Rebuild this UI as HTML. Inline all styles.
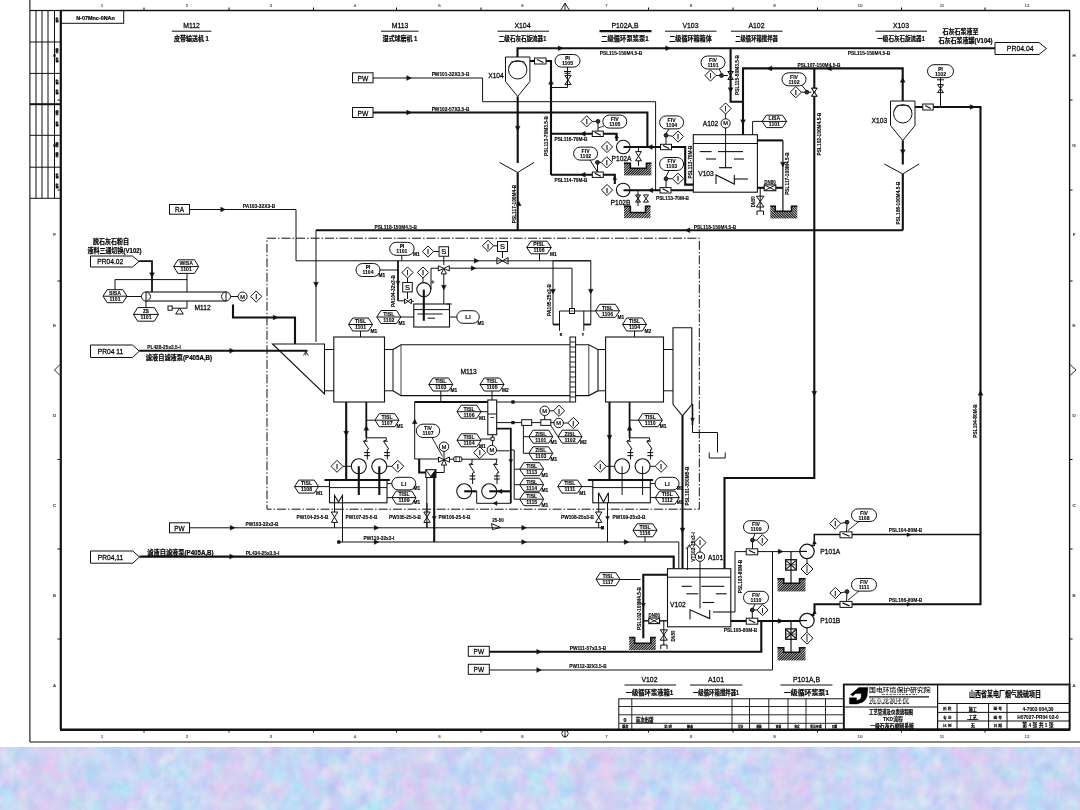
<!DOCTYPE html>
<html lang="zh"><head><meta charset="utf-8"><title>P&amp;ID 一级石灰石磨制系统</title>
<style>
html,body{margin:0;padding:0;background:#fff;}
body{width:1080px;height:810px;overflow:hidden;position:relative;font-family:'Liberation Sans', 'Noto Sans CJK SC', sans-serif;}
#band{position:absolute;left:0;top:746.5px;width:1080px;height:64px;}
#dwg{position:absolute;left:0;top:0;width:1080px;height:810px;filter:blur(0.35px);}
#dwg text{font-family:'Liberation Sans', 'Noto Sans CJK SC', sans-serif;}
</style></head><body>
<svg id="band" width="1080" height="64" viewBox="0 0 1080 64">
<defs>
<linearGradient id="pk" x1="0" y1="0" x2="186" y2="0" gradientUnits="userSpaceOnUse" spreadMethod="repeat">
<stop offset="0" stop-color="#e8b8e6" stop-opacity="0"/><stop offset="0.16" stop-color="#e8b8e6" stop-opacity="0.2"/><stop offset="0.27" stop-color="#ecc0ea" stop-opacity="0.4"/><stop offset="0.4" stop-color="#e8b8e6" stop-opacity="0.1"/><stop offset="0.6" stop-color="#a8d8f8" stop-opacity="0.25"/><stop offset="0.8" stop-color="#e8b8e6" stop-opacity="0.08"/><stop offset="1" stop-color="#e8b8e6" stop-opacity="0"/>
</linearGradient>
<filter id="tex" x="0" y="0" width="100%" height="100%" color-interpolation-filters="sRGB">
<feTurbulence type="fractalNoise" baseFrequency="0.07 0.06" numOctaves="3" seed="11" result="n"/>
<feColorMatrix in="n" type="matrix" values="0.34 0 0 0 0.615  0 0.22 0 0 0.74  0 0 0.06 0 0.93  0 0 0 0 1"/>
</filter>
</defs>
<rect width="1080" height="64" fill="#c4d0f0" filter="url(#tex)"/>
<rect width="1080" height="64" fill="url(#pk)"/>
</svg>
<svg id="dwg" width="1080" height="810" viewBox="0 0 1080 810" fill="none" stroke="#111" stroke-linecap="butt" stroke-linejoin="miter">
<path d="M29.9 0 L29.9 742" stroke-width="1.1" fill="none"/>
<path d="M29.9 742 L1080 742" stroke-width="1.2" fill="none"/>
<path d="M60.8 10.5 L60.8 729.5" stroke-width="2.2" fill="none"/>
<path d="M60 10.5 L1070 10.5" stroke-width="1.4" fill="none"/>
<path d="M1069.6 10.5 L1069.6 729.5" stroke-width="1.4" fill="none"/>
<path d="M60 729.8 L1070 729.8" stroke-width="2.4" fill="none"/>
<path d="M144 7.5 L144 10.5" stroke-width="1" fill="none"/>
<path d="M144 729.5 L144 732.5" stroke-width="1" fill="none"/>
<path d="M229 7.5 L229 10.5" stroke-width="1" fill="none"/>
<path d="M229 729.5 L229 732.5" stroke-width="1" fill="none"/>
<path d="M313.5 7.5 L313.5 10.5" stroke-width="1" fill="none"/>
<path d="M313.5 729.5 L313.5 732.5" stroke-width="1" fill="none"/>
<path d="M396.5 7.5 L396.5 10.5" stroke-width="1" fill="none"/>
<path d="M396.5 729.5 L396.5 732.5" stroke-width="1" fill="none"/>
<path d="M481 7.5 L481 10.5" stroke-width="1" fill="none"/>
<path d="M481 729.5 L481 732.5" stroke-width="1" fill="none"/>
<path d="M560.5 10.5 L565 3 L569.5 10.5" stroke-width="0.9" fill="none"/>
<path d="M565 3 L565 10.5" stroke-width="0.9" fill="none"/>
<circle cx="565" cy="733.5" r="3.2" stroke-width="0.9" fill="none"/>
<path d="M565 729.5 L565 738" stroke-width="0.9" fill="none"/>
<path d="M648.5 7.5 L648.5 10.5" stroke-width="1" fill="none"/>
<path d="M648.5 729.5 L648.5 732.5" stroke-width="1" fill="none"/>
<path d="M733 7.5 L733 10.5" stroke-width="1" fill="none"/>
<path d="M733 729.5 L733 732.5" stroke-width="1" fill="none"/>
<path d="M817.5 7.5 L817.5 10.5" stroke-width="1" fill="none"/>
<path d="M817.5 729.5 L817.5 732.5" stroke-width="1" fill="none"/>
<path d="M901.5 7.5 L901.5 10.5" stroke-width="1" fill="none"/>
<path d="M901.5 729.5 L901.5 732.5" stroke-width="1" fill="none"/>
<path d="M985 7.5 L985 10.5" stroke-width="1" fill="none"/>
<path d="M985 729.5 L985 732.5" stroke-width="1" fill="none"/>
<text x="102" y="6.5" font-size="4.4" text-anchor="middle" fill="#666" stroke="#666" stroke-width="0.22">1</text>
<text x="102" y="737.5" font-size="4.4" text-anchor="middle" fill="#666" stroke="#666" stroke-width="0.22">1</text>
<text x="187" y="6.5" font-size="4.4" text-anchor="middle" fill="#666" stroke="#666" stroke-width="0.22">2</text>
<text x="187" y="737.5" font-size="4.4" text-anchor="middle" fill="#666" stroke="#666" stroke-width="0.22">2</text>
<text x="271" y="6.5" font-size="4.4" text-anchor="middle" fill="#666" stroke="#666" stroke-width="0.22">3</text>
<text x="271" y="737.5" font-size="4.4" text-anchor="middle" fill="#666" stroke="#666" stroke-width="0.22">3</text>
<text x="355" y="6.5" font-size="4.4" text-anchor="middle" fill="#666" stroke="#666" stroke-width="0.22">4</text>
<text x="355" y="737.5" font-size="4.4" text-anchor="middle" fill="#666" stroke="#666" stroke-width="0.22">4</text>
<text x="439.5" y="6.5" font-size="4.4" text-anchor="middle" fill="#666" stroke="#666" stroke-width="0.22">5</text>
<text x="439.5" y="737.5" font-size="4.4" text-anchor="middle" fill="#666" stroke="#666" stroke-width="0.22">5</text>
<text x="522.5" y="6.5" font-size="4.4" text-anchor="middle" fill="#666" stroke="#666" stroke-width="0.22">6</text>
<text x="522.5" y="737.5" font-size="4.4" text-anchor="middle" fill="#666" stroke="#666" stroke-width="0.22">6</text>
<text x="606.5" y="6.5" font-size="4.4" text-anchor="middle" fill="#666" stroke="#666" stroke-width="0.22">7</text>
<text x="606.5" y="737.5" font-size="4.4" text-anchor="middle" fill="#666" stroke="#666" stroke-width="0.22">7</text>
<text x="691" y="6.5" font-size="4.4" text-anchor="middle" fill="#666" stroke="#666" stroke-width="0.22">8</text>
<text x="691" y="737.5" font-size="4.4" text-anchor="middle" fill="#666" stroke="#666" stroke-width="0.22">8</text>
<text x="774.5" y="6.5" font-size="4.4" text-anchor="middle" fill="#666" stroke="#666" stroke-width="0.22">9</text>
<text x="774.5" y="737.5" font-size="4.4" text-anchor="middle" fill="#666" stroke="#666" stroke-width="0.22">9</text>
<text x="860" y="6.5" font-size="4.4" text-anchor="middle" fill="#666" stroke="#666" stroke-width="0.22">10</text>
<text x="860" y="737.5" font-size="4.4" text-anchor="middle" fill="#666" stroke="#666" stroke-width="0.22">10</text>
<text x="942" y="6.5" font-size="4.4" text-anchor="middle" fill="#666" stroke="#666" stroke-width="0.22">11</text>
<text x="942" y="737.5" font-size="4.4" text-anchor="middle" fill="#666" stroke="#666" stroke-width="0.22">11</text>
<text x="1027" y="6.5" font-size="4.4" text-anchor="middle" fill="#666" stroke="#666" stroke-width="0.22">12</text>
<text x="1027" y="737.5" font-size="4.4" text-anchor="middle" fill="#666" stroke="#666" stroke-width="0.22">12</text>
<text x="54.5" y="56.6" font-size="4.4" text-anchor="middle" fill="#444" stroke="#444" stroke-width="0.22">H</text>
<text x="1074" y="56.6" font-size="4.4" text-anchor="middle" fill="#444" stroke="#444" stroke-width="0.22">H</text>
<text x="54.5" y="146.6" font-size="4.4" text-anchor="middle" fill="#444" stroke="#444" stroke-width="0.22">G</text>
<text x="1074" y="146.6" font-size="4.4" text-anchor="middle" fill="#444" stroke="#444" stroke-width="0.22">G</text>
<text x="54.5" y="236.1" font-size="4.4" text-anchor="middle" fill="#444" stroke="#444" stroke-width="0.22">F</text>
<text x="1074" y="236.1" font-size="4.4" text-anchor="middle" fill="#444" stroke="#444" stroke-width="0.22">F</text>
<text x="54.5" y="326.6" font-size="4.4" text-anchor="middle" fill="#444" stroke="#444" stroke-width="0.22">E</text>
<text x="1074" y="326.6" font-size="4.4" text-anchor="middle" fill="#444" stroke="#444" stroke-width="0.22">E</text>
<text x="54.5" y="416.6" font-size="4.4" text-anchor="middle" fill="#444" stroke="#444" stroke-width="0.22">D</text>
<text x="1074" y="416.6" font-size="4.4" text-anchor="middle" fill="#444" stroke="#444" stroke-width="0.22">D</text>
<text x="54.5" y="506.6" font-size="4.4" text-anchor="middle" fill="#444" stroke="#444" stroke-width="0.22">C</text>
<text x="1074" y="506.6" font-size="4.4" text-anchor="middle" fill="#444" stroke="#444" stroke-width="0.22">C</text>
<text x="54.5" y="596.6" font-size="4.4" text-anchor="middle" fill="#444" stroke="#444" stroke-width="0.22">B</text>
<text x="1074" y="596.6" font-size="4.4" text-anchor="middle" fill="#444" stroke="#444" stroke-width="0.22">B</text>
<text x="54.5" y="686.6" font-size="4.4" text-anchor="middle" fill="#444" stroke="#444" stroke-width="0.22">A</text>
<text x="1074" y="686.6" font-size="4.4" text-anchor="middle" fill="#444" stroke="#444" stroke-width="0.22">A</text>
<path d="M57.5 100 L60.8 100" stroke-width="1" fill="none"/>
<path d="M1069.6 100 L1072.6 100" stroke-width="1" fill="none"/>
<path d="M57.5 190 L60.8 190" stroke-width="1" fill="none"/>
<path d="M1069.6 190 L1072.6 190" stroke-width="1" fill="none"/>
<path d="M57.5 281 L60.8 281" stroke-width="1" fill="none"/>
<path d="M1069.6 281 L1072.6 281" stroke-width="1" fill="none"/>
<path d="M57.5 459.5 L60.8 459.5" stroke-width="1" fill="none"/>
<path d="M1069.6 459.5 L1072.6 459.5" stroke-width="1" fill="none"/>
<path d="M57.5 549 L60.8 549" stroke-width="1" fill="none"/>
<path d="M1069.6 549 L1072.6 549" stroke-width="1" fill="none"/>
<path d="M57.5 639 L60.8 639" stroke-width="1" fill="none"/>
<path d="M1069.6 639 L1072.6 639" stroke-width="1" fill="none"/>
<path d="M60 364.5 L54.5 370 L60 375.5" stroke-width="0.9" fill="none"/>
<path d="M1070 364.5 L1076 370 L1070 375.5" stroke-width="0.9" fill="none"/>
<path d="M36 10.5 L36 198.3" stroke-width="1" fill="none"/>
<path d="M42 10.5 L42 198.3" stroke-width="1" fill="none"/>
<path d="M48 10.5 L48 198.3" stroke-width="1" fill="none"/>
<path d="M54.5 10.5 L54.5 198.3" stroke-width="1" fill="none"/>
<path d="M29.9 42 L60.8 42" stroke-width="1" fill="none"/>
<path d="M29.9 73.4 L60.8 73.4" stroke-width="1" fill="none"/>
<path d="M29.9 104.2 L60.8 104.2" stroke-width="2" fill="none"/>
<path d="M29.9 135.3 L60.8 135.3" stroke-width="1" fill="none"/>
<path d="M29.9 167.2 L60.8 167.2" stroke-width="1" fill="none"/>
<path d="M29.9 198.3 L60.8 198.3" stroke-width="1" fill="none"/>
<path d="M29.9 10.5 L60.8 10.5" stroke-width="1.2" fill="none"/>
<text x="0" y="0" font-size="2.6" text-anchor="middle" transform="translate(57.6 20) rotate(-90)" font-weight="bold" fill="#000" stroke="#000" stroke-width="0.22">签字</text>
<text x="0" y="0" font-size="2.6" text-anchor="middle" transform="translate(57.6 51) rotate(-90)" font-weight="bold" fill="#000" stroke="#000" stroke-width="0.22">日期</text>
<text x="0" y="0" font-size="2.6" text-anchor="middle" transform="translate(57.6 60) rotate(-90)" font-weight="bold" fill="#000" stroke="#000" stroke-width="0.22">签字</text>
<text x="0" y="0" font-size="2.6" text-anchor="middle" transform="translate(57.6 82) rotate(-90)" font-weight="bold" fill="#000" stroke="#000" stroke-width="0.22">签字</text>
<text x="0" y="0" font-size="2.6" text-anchor="middle" transform="translate(57.6 92) rotate(-90)" font-weight="bold" fill="#000" stroke="#000" stroke-width="0.22">签字</text>
<text x="0" y="0" font-size="2.6" text-anchor="middle" transform="translate(57.6 113) rotate(-90)" font-weight="bold" fill="#000" stroke="#000" stroke-width="0.22">日期</text>
<text x="0" y="0" font-size="2.6" text-anchor="middle" transform="translate(57.6 124) rotate(-90)" font-weight="bold" fill="#000" stroke="#000" stroke-width="0.22">签字</text>
<text x="0" y="0" font-size="2.6" text-anchor="middle" transform="translate(57.6 145) rotate(-90)" font-weight="bold" fill="#000" stroke="#000" stroke-width="0.22">日期</text>
<text x="0" y="0" font-size="2.6" text-anchor="middle" transform="translate(57.6 155) rotate(-90)" font-weight="bold" fill="#000" stroke="#000" stroke-width="0.22">日期</text>
<text x="0" y="0" font-size="2.6" text-anchor="middle" transform="translate(57.6 176) rotate(-90)" font-weight="bold" fill="#000" stroke="#000" stroke-width="0.22">签字</text>
<text x="0" y="0" font-size="2.6" text-anchor="middle" transform="translate(57.6 186) rotate(-90)" font-weight="bold" fill="#000" stroke="#000" stroke-width="0.22">签字</text>
<rect x="60.8" y="10.5" width="62.9" height="12.8" stroke-width="1" fill="none"/>
<text x="0" y="0" font-size="6.2" text-anchor="middle" transform="translate(95.5 19.6) scale(0.88 1)" font-weight="bold" fill="#000" stroke="#000" stroke-width="0.22">N-07Mnc-0NAn</text>
<text x="0" y="0" font-size="7.92" text-anchor="middle" transform="translate(191.5 28.1) scale(0.87 1)" fill="#000" stroke="#000" stroke-width="0.25">M112</text>
<path d="M171.8 31.2 L211.3 31.2" stroke-width="1" fill="none"/>
<text x="0" y="0" font-size="7.4" text-anchor="middle" transform="translate(191.5 41.3) scale(0.81 1)" font-weight="bold" fill="#000" stroke="#000" stroke-width="0.22">皮带输送机 1</text>
<text x="0" y="0" font-size="7.92" text-anchor="middle" transform="translate(400 28.1) scale(0.87 1)" fill="#000" stroke="#000" stroke-width="0.25">M113</text>
<path d="M381 31.2 L418.5 31.2" stroke-width="1" fill="none"/>
<text x="0" y="0" font-size="7.4" text-anchor="middle" transform="translate(400 41.3) scale(0.81 1)" font-weight="bold" fill="#000" stroke="#000" stroke-width="0.22">湿式球磨机 1</text>
<text x="0" y="0" font-size="7.92" text-anchor="middle" transform="translate(522.5 28.1) scale(0.87 1)" fill="#000" stroke="#000" stroke-width="0.25">X104</text>
<path d="M497.5 31.2 L549 31.2" stroke-width="1" fill="none"/>
<text x="0" y="0" font-size="7.4" text-anchor="middle" transform="translate(522.5 41.3) scale(0.75 1)" font-weight="bold" fill="#000" stroke="#000" stroke-width="0.22">二级石灰石旋流器1</text>
<text x="0" y="0" font-size="7.92" text-anchor="middle" transform="translate(625 28.1) scale(0.87 1)" fill="#000" stroke="#000" stroke-width="0.25">P102A,B</text>
<path d="M599.5 31.2 L651.5 31.2" stroke-width="2.2" fill="none"/>
<text x="0" y="0" font-size="7.4" text-anchor="middle" transform="translate(625 41.3) scale(0.85 1)" font-weight="bold" fill="#000" stroke="#000" stroke-width="0.22">二级循环泵浆泵1</text>
<text x="0" y="0" font-size="7.92" text-anchor="middle" transform="translate(690.5 28.1) scale(0.87 1)" fill="#000" stroke="#000" stroke-width="0.25">V103</text>
<path d="M665 31.2 L716.5 31.2" stroke-width="1" fill="none"/>
<text x="0" y="0" font-size="7.4" text-anchor="middle" transform="translate(690.5 41.3) scale(0.82 1)" font-weight="bold" fill="#000" stroke="#000" stroke-width="0.22">二级循环箱箱体</text>
<text x="0" y="0" font-size="7.92" text-anchor="middle" transform="translate(756.5 28.1) scale(0.87 1)" fill="#000" stroke="#000" stroke-width="0.25">A102</text>
<path d="M731 31.2 L782.5 31.2" stroke-width="1" fill="none"/>
<text x="0" y="0" font-size="7.4" text-anchor="middle" transform="translate(756.5 41.3) scale(0.72 1)" font-weight="bold" fill="#000" stroke="#000" stroke-width="0.22">二级循环箱搅拌器</text>
<text x="0" y="0" font-size="7.92" text-anchor="middle" transform="translate(901 28.1) scale(0.87 1)" fill="#000" stroke="#000" stroke-width="0.25">X103</text>
<path d="M875.5 31.2 L927 31.2" stroke-width="1" fill="none"/>
<text x="0" y="0" font-size="7.4" text-anchor="middle" transform="translate(901 41.3) scale(0.75 1)" font-weight="bold" fill="#000" stroke="#000" stroke-width="0.22">一级石灰石旋流器1</text>
<text x="0" y="0" font-size="7.92" text-anchor="middle" transform="translate(649.5 681.5) scale(0.87 1)" fill="#000" stroke="#000" stroke-width="0.25">V102</text>
<path d="M624.5 685 L676 685" stroke-width="1" fill="none"/>
<text x="0" y="0" font-size="7.4" text-anchor="middle" transform="translate(649.5 694.7) scale(0.85 1)" font-weight="bold" fill="#000" stroke="#000" stroke-width="0.22">一级循环浆液箱1</text>
<text x="0" y="0" font-size="7.92" text-anchor="middle" transform="translate(716 681.5) scale(0.87 1)" fill="#000" stroke="#000" stroke-width="0.25">A101</text>
<path d="M690 685 L742.5 685" stroke-width="1" fill="none"/>
<text x="0" y="0" font-size="7.4" text-anchor="middle" transform="translate(716 694.7) scale(0.73 1)" font-weight="bold" fill="#000" stroke="#000" stroke-width="0.22">一级循环箱搅拌器1</text>
<text x="0" y="0" font-size="7.92" text-anchor="middle" transform="translate(806.5 681.5) scale(0.87 1)" fill="#000" stroke="#000" stroke-width="0.25">P101A,B</text>
<path d="M780.5 685 L832.5 685" stroke-width="1" fill="none"/>
<text x="0" y="0" font-size="7.4" text-anchor="middle" transform="translate(806.5 694.7) scale(0.93 1)" font-weight="bold" fill="#000" stroke="#000" stroke-width="0.22">一级循环浆泵1</text>
<text x="0" y="0" font-size="7.2" text-anchor="middle" transform="translate(960.5 33.8) scale(0.84 1)" font-weight="bold" fill="#000" stroke="#000" stroke-width="0.22">石灰石浆液至</text>
<text x="0" y="0" font-size="7.2" text-anchor="middle" transform="translate(965.5 42.8) scale(0.84 1)" font-weight="bold" fill="#000" stroke="#000" stroke-width="0.22">石灰石浆液罐(V104)</text>
<path d="M995 42.5 L1039 42.5 L1046.5 48.5 L1039 54.5 L995 54.5Z" stroke-width="1" fill="none"/>
<text x="0" y="0" font-size="7.92" text-anchor="middle" transform="translate(1020.2 51.3) scale(0.87 1)" fill="#000" stroke="#000" stroke-width="0.25">PR04.04</text>
<path d="M517.5 57 L517.5 48.2 L995 48.2" stroke-width="2.1" fill="none"/>
<path d="M563 48.2 L558.2 45.7 L558.2 50.7Z" stroke-width="0.3" fill="#111"/>
<path d="M670.5 48.2 L665.7 45.7 L665.7 50.7Z" stroke-width="0.3" fill="#111"/>
<text x="0" y="0" font-size="5.6" text-anchor="middle" transform="translate(621 54.9) scale(0.86 1)" font-weight="bold" fill="#000" stroke="#000" stroke-width="0.12">PSL115-150M4.5-B</text>
<text x="0" y="0" font-size="5.6" text-anchor="middle" transform="translate(869 54.9) scale(0.86 1)" font-weight="bold" fill="#000" stroke="#000" stroke-width="0.12">PSL115-150M4.5-B</text>
<rect x="352.5" y="72.8" width="20.5" height="10" stroke-width="1" fill="none"/>
<text x="0" y="0" font-size="7.68" text-anchor="middle" transform="translate(362.8 80.7) scale(0.87 1)" fill="#000" stroke="#000" stroke-width="0.25">PW</text>
<rect x="352.5" y="107.5" width="20.5" height="10" stroke-width="1" fill="none"/>
<text x="0" y="0" font-size="7.68" text-anchor="middle" transform="translate(362.8 115.5) scale(0.87 1)" fill="#000" stroke="#000" stroke-width="0.25">PW</text>
<path d="M373 78 L482.6 78 L482.6 101.7 L655.6 101.7 L655.6 190" stroke-width="1" fill="none"/>
<path d="M411.5 78 L406.7 75.5 L406.7 80.5Z" stroke-width="0.3" fill="#111"/>
<text x="0" y="0" font-size="5.6" text-anchor="middle" transform="translate(450.5 76.3) scale(0.86 1)" font-weight="bold" fill="#000" stroke="#000" stroke-width="0.12">PW101-32X3.5-B</text>
<path d="M373 112.5 L647.4 112.5 L647.4 147" stroke-width="2.1" fill="none"/>
<path d="M411.5 112.5 L406.7 110 L406.7 115Z" stroke-width="0.3" fill="#111"/>
<text x="0" y="0" font-size="5.6" text-anchor="middle" transform="translate(450.5 110.9) scale(0.86 1)" font-weight="bold" fill="#000" stroke="#000" stroke-width="0.12">PW102-57X3.5-B</text>
<path d="M505.5 57 L529.9 57 L529.9 81.5 L517.7 96.5 L505.5 81.5Z" stroke-width="1" fill="none"/>
<circle cx="517.7" cy="69.8" r="9.2" stroke-width="1" fill="none"/>
<path d="M508.5 67 L511.7 61.5 L523.7 61.5 L526.9 67" stroke-width="0.8" fill="none"/>
<text x="0" y="0" font-size="7.68" text-anchor="middle" transform="translate(496 77.7) scale(0.87 1)" fill="#000" stroke="#000" stroke-width="0.25">X104</text>
<path d="M517.7 96.5 L517.7 163" stroke-width="2.1" fill="none"/>
<path d="M517.7 131 L515.2 126.2 L520.2 126.2Z" stroke-width="0.3" fill="#111"/>
<path d="M499.5 162.5 L517.7 172.5 L534 162.5" stroke-width="1" fill="none"/>
<path d="M517.7 172.5 L517.7 230" stroke-width="2.1" fill="none"/>
<text x="0" y="0" font-size="5.6" text-anchor="middle" transform="translate(516.4 204) rotate(-90) scale(0.86 1)" font-weight="bold" fill="#000" stroke="#000" stroke-width="0.12">PSL117-100M4-B</text>
<path d="M530 61 L534.5 61" stroke-width="2.1" fill="none"/>
<rect x="534.5" y="58" width="11.5" height="6" stroke-width="1" fill="none"/>
<path d="M537 59.5 L543.5 62.5" stroke-width="1.1" fill="none"/>
<path d="M546 61 L551 61 L551 175" stroke-width="2.1" fill="none"/>
<path d="M551 79.5 L548.5 84.3 L553.5 84.3Z" stroke-width="0.3" fill="#111"/>
<text x="0" y="0" font-size="5.6" text-anchor="middle" transform="translate(547.7 136) rotate(-90) scale(0.86 1)" font-weight="bold" fill="#000" stroke="#000" stroke-width="0.12">PSL113-70M3.5-B</text>
<rect x="555" y="54.5" width="25" height="12.6" stroke-width="1" fill="none" rx="6.3"/>
<text x="567.5" y="60.2" font-size="4.6" text-anchor="middle" font-weight="bold" fill="#000" stroke="#000" stroke-width="0.22">PI</text>
<text x="567.5" y="65.1" font-size="5.15" text-anchor="middle" font-weight="bold" fill="#000" stroke="#000" stroke-width="0.1">1105</text>
<path d="M567.5 67 L567.5 87.5" stroke-width="1" fill="none"/>
<path d="M564 71.5 L571 71.5" stroke-width="1" fill="none"/>
<path d="M564.5 73.3 L570.5 73.3" stroke-width="1" fill="none"/>
<path d="M564.9 75.4 L571.1 75.4 L564.9 84.6 L571.1 84.6Z" stroke-width="1" fill="none"/>
<path d="M567.5 87.5 L551 87.5" stroke-width="1" fill="none"/>
<path d="M581.1 121.4 L586.7 115.8 L592.3 121.4 L586.7 127Z" stroke-width="1" fill="none"/>
<text x="586.7" y="124.1" font-size="7.44" text-anchor="middle" fill="#000" stroke="#000" stroke-width="0.25">I</text>
<circle cx="598" cy="121.4" r="1.9" stroke-width="1" fill="#333"/>
<path d="M592.3 121.4 L596 121.4" stroke-width="1" fill="none"/>
<rect x="602.8" y="115.1" width="24" height="13" stroke-width="1" fill="none" rx="6.5"/>
<text x="614.8" y="121" font-size="5.15" text-anchor="middle" font-weight="bold" fill="#000" stroke="#000" stroke-width="0.1">FIV</text>
<text x="614.8" y="125.9" font-size="5.15" text-anchor="middle" font-weight="bold" fill="#000" stroke="#000" stroke-width="0.1">1105</text>
<path d="M598 123.3 L598 131" stroke-width="1" fill="none"/>
<path d="M598 128 L604 126" stroke-width="0.8" fill="none"/>
<path d="M551 133.8 L616.6 133.8 L616.6 141" stroke-width="2.1" fill="none"/>
<path d="M580.5 133.8 L585.3 131.3 L585.3 136.3Z" stroke-width="0.3" fill="#111"/>
<path d="M616.6 134.5 L614.6 138.1 L618.6 138.1Z" stroke-width="0.3" fill="#111"/>
<rect x="592.3" y="131.1" width="11" height="5.4" stroke-width="1" fill="#fff"/>
<path d="M594.8 132.3 L600.8 135.3" stroke-width="1.2" fill="none"/>
<text x="0" y="0" font-size="5.6" text-anchor="middle" transform="translate(571 140.9) scale(0.86 1)" font-weight="bold" fill="#000" stroke="#000" stroke-width="0.12">PSL116-70M-B</text>
<path d="M601.4 147 L607 141.4 L612.6 147 L607 152.6Z" stroke-width="1" fill="none"/>
<text x="607" y="149.7" font-size="7.44" text-anchor="middle" fill="#000" stroke="#000" stroke-width="0.25">I</text>
<circle cx="623.3" cy="147" r="6.8" stroke-width="1.1" fill="none"/>
<path d="M623.5 147 L660.5 147" stroke-width="2.1" fill="none"/>
<path d="M647.5 147 L652.3 144.5 L652.3 149.5Z" stroke-width="0.3" fill="#111"/>
<rect x="660.5" y="144.3" width="11" height="5.4" stroke-width="1" fill="#fff"/>
<path d="M663 145.5 L669 148.5" stroke-width="1.2" fill="none"/>
<path d="M671.5 147 L685.2 147 L685.2 184.6 L693.3 184.6" stroke-width="2.1" fill="none"/>
<rect x="659.6" y="115.9" width="24" height="13" stroke-width="1" fill="none" rx="6.5"/>
<text x="671.6" y="121.8" font-size="5.15" text-anchor="middle" font-weight="bold" fill="#000" stroke="#000" stroke-width="0.1">FIV</text>
<text x="671.6" y="126.7" font-size="5.15" text-anchor="middle" font-weight="bold" fill="#000" stroke="#000" stroke-width="0.1">1104</text>
<circle cx="666" cy="135.3" r="1.9" stroke-width="1" fill="#333"/>
<path d="M672.4 136.5 L678 130.9 L683.6 136.5 L678 142.1Z" stroke-width="1" fill="none"/>
<text x="678" y="139.2" font-size="7.44" text-anchor="middle" fill="#000" stroke="#000" stroke-width="0.25">I</text>
<path d="M666 137 L666 144.3" stroke-width="1" fill="none"/>
<path d="M666 133.5 L669 129" stroke-width="1" fill="none"/>
<path d="M668 135.6 L672.4 136.2" stroke-width="1" fill="none"/>
<rect x="573.6" y="147.1" width="24" height="13" stroke-width="1" fill="none" rx="6.5"/>
<text x="585.6" y="153" font-size="5.15" text-anchor="middle" font-weight="bold" fill="#000" stroke="#000" stroke-width="0.1">FIV</text>
<text x="585.6" y="157.9" font-size="5.15" text-anchor="middle" font-weight="bold" fill="#000" stroke="#000" stroke-width="0.1">1102</text>
<circle cx="597.5" cy="162.4" r="1.9" stroke-width="1" fill="#333"/>
<path d="M601.1 162.4 L606.7 156.8 L612.3 162.4 L606.7 168Z" stroke-width="1" fill="none"/>
<text x="606.7" y="165.1" font-size="7.44" text-anchor="middle" fill="#000" stroke="#000" stroke-width="0.25">I</text>
<path d="M590 160 L597.5 172" stroke-width="1" fill="none"/>
<path d="M597.5 164.3 L597.5 172" stroke-width="1" fill="none"/>
<path d="M599.4 162.4 L601.1 162.4" stroke-width="1" fill="none"/>
<path d="M551 174.7 L614.8 174.7 L614.8 184" stroke-width="2.1" fill="none"/>
<path d="M580.5 174.7 L585.3 172.2 L585.3 177.2Z" stroke-width="0.3" fill="#111"/>
<path d="M614.8 176 L612.8 179.6 L616.8 179.6Z" stroke-width="0.3" fill="#111"/>
<rect x="592.3" y="172" width="11" height="5.4" stroke-width="1" fill="#fff"/>
<path d="M594.8 173.2 L600.8 176.2" stroke-width="1.2" fill="none"/>
<text x="0" y="0" font-size="5.6" text-anchor="middle" transform="translate(571 181.7) scale(0.86 1)" font-weight="bold" fill="#000" stroke="#000" stroke-width="0.12">PSL114-70M-B</text>
<text x="0" y="0" font-size="7.68" text-anchor="middle" transform="translate(621.5 160.7) scale(0.87 1)" fill="#000" stroke="#000" stroke-width="0.25">P102A</text>
<path d="M635.5 151.6 L641.5 151.6 L635.5 160.8 L641.5 160.8Z" stroke-width="1" fill="none"/>
<path d="M638.5 160.8 L638.5 166" stroke-width="1" fill="none"/>
<path d="M638.5 147 L638.5 151.6" stroke-width="1" fill="none"/>
<clipPath id="hc1"><path d="M624 162.8 L630.4 162.8 L630.4 168.3 L646.4 168.3 L646.4 162.8 L651.4 162.8 L651.4 175.5 L624 175.5Z"/></clipPath>
<path d="M610.8 176 l14.2 -14.2M613.3 176 l14.2 -14.2M615.8 176 l14.2 -14.2M618.3 176 l14.2 -14.2M620.8 176 l14.2 -14.2M623.3 176 l14.2 -14.2M625.8 176 l14.2 -14.2M628.3 176 l14.2 -14.2M630.8 176 l14.2 -14.2M633.3 176 l14.2 -14.2M635.8 176 l14.2 -14.2M638.3 176 l14.2 -14.2M640.8 176 l14.2 -14.2M643.3 176 l14.2 -14.2M645.8 176 l14.2 -14.2M648.3 176 l14.2 -14.2M650.8 176 l14.2 -14.2" stroke-width="1.15" clip-path="url(#hc1)"/>
<path d="M624 163.3 L630.4 163.3 L630.4 168.3 L646.4 168.3 L646.4 163.3 L651.4 163.3" stroke-width="1.5" fill="none"/>
<path d="M601.4 190 L607 184.4 L612.6 190 L607 195.6Z" stroke-width="1" fill="none"/>
<text x="607" y="192.7" font-size="7.44" text-anchor="middle" fill="#000" stroke="#000" stroke-width="0.25">I</text>
<circle cx="623.2" cy="190" r="6.8" stroke-width="1.1" fill="none"/>
<path d="M623.5 190.3 L693.3 190.3" stroke-width="2.1" fill="none"/>
<path d="M648 190.3 L652.8 187.8 L652.8 192.8Z" stroke-width="0.3" fill="#111"/>
<rect x="660" y="187.6" width="11" height="5.4" stroke-width="1" fill="#fff"/>
<path d="M662.5 188.8 L668.5 191.8" stroke-width="1.2" fill="none"/>
<rect x="659.6" y="157.5" width="24" height="13" stroke-width="1" fill="none" rx="6.5"/>
<text x="671.6" y="163.4" font-size="5.15" text-anchor="middle" font-weight="bold" fill="#000" stroke="#000" stroke-width="0.1">FIV</text>
<text x="671.6" y="168.3" font-size="5.15" text-anchor="middle" font-weight="bold" fill="#000" stroke="#000" stroke-width="0.1">1103</text>
<circle cx="666" cy="178.7" r="1.9" stroke-width="1" fill="#333"/>
<path d="M672.4 178.7 L678 173.1 L683.6 178.7 L678 184.3Z" stroke-width="1" fill="none"/>
<text x="678" y="181.4" font-size="7.44" text-anchor="middle" fill="#000" stroke="#000" stroke-width="0.25">I</text>
<path d="M666 180.5 L666 187.6" stroke-width="1" fill="none"/>
<path d="M666 176.8 L669 170.6" stroke-width="1" fill="none"/>
<path d="M668 178.7 L672.4 178.7" stroke-width="1" fill="none"/>
<text x="0" y="0" font-size="5.6" text-anchor="middle" transform="translate(672.5 200.3) scale(0.86 1)" font-weight="bold" fill="#000" stroke="#000" stroke-width="0.12">PSL113-70M-B</text>
<text x="0" y="0" font-size="7.68" text-anchor="middle" transform="translate(620.5 205.1) scale(0.87 1)" fill="#000" stroke="#000" stroke-width="0.25">P102B</text>
<path d="M635.5 194.9 L640.5 194.9 L635.5 202.1 L640.5 202.1Z" stroke-width="1" fill="none"/>
<path d="M638 190.3 L638 206" stroke-width="1" fill="none"/>
<path d="M643.5 194.9 L648.5 194.9 L643.5 202.1 L648.5 202.1Z" stroke-width="1" fill="none"/>
<clipPath id="hc2"><path d="M624 205.8 L630.4 205.8 L630.4 212.5 L645.5 212.5 L645.5 205.8 L650.5 205.8 L650.5 218.3 L624 218.3Z"/></clipPath>
<path d="M611 218.8 l14 -14M613.5 218.8 l14 -14M616 218.8 l14 -14M618.5 218.8 l14 -14M621 218.8 l14 -14M623.5 218.8 l14 -14M626 218.8 l14 -14M628.5 218.8 l14 -14M631 218.8 l14 -14M633.5 218.8 l14 -14M636 218.8 l14 -14M638.5 218.8 l14 -14M641 218.8 l14 -14M643.5 218.8 l14 -14M646 218.8 l14 -14M648.5 218.8 l14 -14M651 218.8 l14 -14" stroke-width="1.15" clip-path="url(#hc2)"/>
<path d="M624 206.3 L630.4 206.3 L630.4 212.5 L645.5 212.5 L645.5 206.3 L650.5 206.3" stroke-width="1.5" fill="none"/>
<text x="0" y="0" font-size="5.6" text-anchor="middle" transform="translate(691.7 162) rotate(-90) scale(0.86 1)" font-weight="bold" fill="#000" stroke="#000" stroke-width="0.12">PSL113-70M-B</text>
<rect x="693.3" y="134.7" width="64.1" height="57.5" stroke-width="1.1" fill="none"/>
<path d="M693.3 143.5 L757.4 143.5" stroke-width="1" fill="none"/>
<text x="0" y="0" font-size="7.68" text-anchor="middle" transform="translate(710.5 126.3) scale(0.87 1)" fill="#000" stroke="#000" stroke-width="0.25">A102</text>
<circle cx="725.6" cy="123.4" r="4.6" stroke-width="1" fill="none"/>
<text x="725.6" y="125.4" font-size="5.6" text-anchor="middle" fill="#000" stroke="#000" stroke-width="0.22">M</text>
<path d="M720 108.5 L725.6 102.9 L731.2 108.5 L725.6 114.1Z" stroke-width="1" fill="none"/>
<text x="725.6" y="111.2" font-size="7.44" text-anchor="middle" fill="#000" stroke="#000" stroke-width="0.25">I</text>
<path d="M725.6 114 L725.6 118.8" stroke-width="1" fill="none"/>
<path d="M725.6 128 L725.6 167.7" stroke-width="1" fill="none"/>
<path d="M719 167.7 L732 167.7" stroke-width="1.2" fill="none"/>
<path d="M699.7 151.6 L711.6 151.6" stroke-width="1.1" fill="none"/>
<path d="M718 151.6 L743 151.6" stroke-width="1.1" fill="none"/>
<path d="M706 159 L716 159" stroke-width="1.1" fill="none"/>
<path d="M734 159 L744 159" stroke-width="1.1" fill="none"/>
<path d="M716 184 L716 175 L734.3 184 L734.3 175" stroke-width="1.1" fill="none"/>
<path d="M734.3 179 L748 179" stroke-width="1.1" fill="none"/>
<text x="0" y="0" font-size="7.68" text-anchor="middle" transform="translate(706 175.7) scale(0.87 1)" fill="#000" stroke="#000" stroke-width="0.25">V103</text>
<path d="M730.6 48.2 L730.6 101.8 L743 101.8" stroke-width="2.1" fill="none"/>
<path d="M727.8 71.5 L733.4 71.5 L727.8 79.5 L733.4 79.5Z" stroke-width="1" fill="none"/>
<path d="M730.6 92.5 L728.1 87.7 L733.1 87.7Z" stroke-width="0.3" fill="#111"/>
<rect x="701" y="56" width="24" height="13" stroke-width="1" fill="none" rx="6.5"/>
<text x="713" y="61.9" font-size="5.15" text-anchor="middle" font-weight="bold" fill="#000" stroke="#000" stroke-width="0.1">FIV</text>
<text x="713" y="66.8" font-size="5.15" text-anchor="middle" font-weight="bold" fill="#000" stroke="#000" stroke-width="0.1">1101</text>
<path d="M704.9 75.5 L710.5 69.9 L716.1 75.5 L710.5 81.1Z" stroke-width="1" fill="none"/>
<text x="710.5" y="78.2" font-size="7.44" text-anchor="middle" fill="#000" stroke="#000" stroke-width="0.25">I</text>
<circle cx="721.5" cy="75.5" r="1.9" stroke-width="1" fill="#333"/>
<path d="M716.1 75.5 L719.6 75.5" stroke-width="1" fill="none"/>
<path d="M723.4 75.5 L727.8 75.5" stroke-width="1" fill="none"/>
<path d="M721.5 73.6 L719 69" stroke-width="1" fill="none"/>
<text x="0" y="0" font-size="5.6" text-anchor="middle" transform="translate(738.7 75) rotate(-90) scale(0.86 1)" font-weight="bold" fill="#000" stroke="#000" stroke-width="0.12">PSL115-50M3.5-B</text>
<path d="M743 134.7 L743 68.4 L902.7 68.4 L902.7 101" stroke-width="2.1" fill="none"/>
<path d="M743 124.5 L740.5 119.7 L745.5 119.7Z" stroke-width="0.3" fill="#111"/>
<path d="M767 68.4 L771.8 65.9 L771.8 70.9Z" stroke-width="0.3" fill="#111"/>
<path d="M826.5 68.4 L831.3 65.9 L831.3 70.9Z" stroke-width="0.3" fill="#111"/>
<path d="M902.7 77.5 L900.2 82.3 L905.2 82.3Z" stroke-width="0.3" fill="#111"/>
<text x="0" y="0" font-size="5.6" text-anchor="middle" transform="translate(819 66.5) scale(0.86 1)" font-weight="bold" fill="#000" stroke="#000" stroke-width="0.12">PSL107-150M4.5-B</text>
<path d="M762.15 121.4 L766.35 115.2 L782.45 115.2 L786.65 121.4 L782.45 127.6 L766.35 127.6Z" stroke-width="1" fill="none"/>
<path d="M762.15 121.4 L786.65 121.4" stroke-width="1" fill="none"/>
<text x="774.4" y="120.2" font-size="5.15" text-anchor="middle" font-weight="bold" fill="#000" stroke="#000" stroke-width="0.1">LISA</text>
<text x="774.4" y="126.2" font-size="5.15" text-anchor="middle" font-weight="bold" fill="#000" stroke="#000" stroke-width="0.1">1101</text>
<path d="M762.2 121.4 L752.6 121.4 L752.6 134.7" stroke-width="1" fill="none"/>
<rect x="782" y="72.8" width="24" height="13" stroke-width="1" fill="none" rx="6.5"/>
<text x="794" y="78.7" font-size="5.15" text-anchor="middle" font-weight="bold" fill="#000" stroke="#000" stroke-width="0.1">FIV</text>
<text x="794" y="83.6" font-size="5.15" text-anchor="middle" font-weight="bold" fill="#000" stroke="#000" stroke-width="0.1">1102</text>
<path d="M790.2 92.2 L795.8 86.6 L801.4 92.2 L795.8 97.8Z" stroke-width="1" fill="none"/>
<text x="795.8" y="94.9" font-size="7.44" text-anchor="middle" fill="#000" stroke="#000" stroke-width="0.25">I</text>
<circle cx="806.8" cy="92.2" r="1.9" stroke-width="1" fill="#333"/>
<path d="M801.4 92.2 L804.9 92.2" stroke-width="1" fill="none"/>
<path d="M808.7 92.2 L811.4 92.2" stroke-width="1" fill="none"/>
<path d="M806 90.4 L802 85.6" stroke-width="1" fill="none"/>
<path d="M814.3 68.4 L814.3 478 L724.5 478 L724.5 568.5" stroke-width="2.1" fill="none"/>
<path d="M811.5 88.2 L817.1 88.2 L811.5 96.2 L817.1 96.2Z" stroke-width="1" fill="none"/>
<path d="M811.5 88.2h5.6l-5.6 8h5.6z" fill="#fff" stroke-width="1"/>
<path d="M814.3 396 L811.8 391.2 L816.8 391.2Z" stroke-width="0.3" fill="#111"/>
<text x="0" y="0" font-size="5.6" text-anchor="middle" transform="translate(821 134) rotate(-90) scale(0.86 1)" font-weight="bold" fill="#000" stroke="#000" stroke-width="0.12">PSL102-100M4.5-B</text>
<path d="M757.4 140.4 L782.9 140.4" stroke-width="2.1" fill="none"/>
<path d="M782.9 140.4 L782.9 211" stroke-width="1.2" fill="none"/>
<path d="M782.9 167 L780.4 162.2 L785.4 162.2Z" stroke-width="0.3" fill="#111"/>
<text x="0" y="0" font-size="5.6" text-anchor="middle" transform="translate(789.4 173.6) rotate(-90) scale(0.86 1)" font-weight="bold" fill="#000" stroke="#000" stroke-width="0.12">PSL117-100M4.5-B</text>
<path d="M757.4 187.8 L782.9 187.8" stroke-width="2.1" fill="none"/>
<rect x="764.2" y="184.9" width="11.6" height="5.8" stroke-width="1.1" fill="#fff"/>
<path d="M764.2 184.9 L775.8 190.7" stroke-width="0.9" fill="none"/>
<path d="M775.8 184.9 L764.2 190.7" stroke-width="0.9" fill="none"/>
<text x="0" y="0" font-size="5" text-anchor="middle" transform="translate(770 183.8) scale(0.9 1)" font-weight="bold" fill="#000" stroke="#000" stroke-width="0.08">DN80</text>
<path d="M760.2 187.8 L760.2 211" stroke-width="1" fill="none"/>
<path d="M756.4 196.2 L764 196.2 L756.4 207 L764 207Z" stroke-width="1" fill="none"/>
<path d="M757 215 L757 211 L763.5 211 L763.5 215" stroke-width="1" fill="none"/>
<text x="0" y="0" font-size="4.8" text-anchor="middle" transform="translate(754.6 201.8) rotate(-90) scale(0.9 1)" font-weight="bold" fill="#000" stroke="#000" stroke-width="0.08">DN50</text>
<clipPath id="hc3"><path d="M770.3 205.7 L775.3 205.7 L775.3 211.2 L791.5 211.2 L791.5 205.7 L797.3 205.7 L797.3 218.5 L770.3 218.5Z"/></clipPath>
<path d="M757 204.7 l14.3 14.3M759.5 204.7 l14.3 14.3M762 204.7 l14.3 14.3M764.5 204.7 l14.3 14.3M767 204.7 l14.3 14.3M769.5 204.7 l14.3 14.3M772 204.7 l14.3 14.3M774.5 204.7 l14.3 14.3M777 204.7 l14.3 14.3M779.5 204.7 l14.3 14.3M782 204.7 l14.3 14.3M784.5 204.7 l14.3 14.3M787 204.7 l14.3 14.3M789.5 204.7 l14.3 14.3M792 204.7 l14.3 14.3M794.5 204.7 l14.3 14.3M797 204.7 l14.3 14.3" stroke-width="1.15" clip-path="url(#hc3)"/>
<path d="M770.3 206.2 L775.3 206.2 L775.3 211.2 L791.5 211.2 L791.5 206.2 L797.3 206.2" stroke-width="1.5" fill="none"/>
<path d="M890.5 101 L915 101 L915 125.5 L902.8 140.5 L890.5 125.5Z" stroke-width="1" fill="none"/>
<circle cx="902.8" cy="113.8" r="9.2" stroke-width="1" fill="none"/>
<path d="M893.6 111 L896.8 105.5 L908.8 105.5 L912 111" stroke-width="0.8" fill="none"/>
<text x="0" y="0" font-size="7.68" text-anchor="middle" transform="translate(879.3 122.7) scale(0.87 1)" fill="#000" stroke="#000" stroke-width="0.25">X103</text>
<path d="M902.8 140.5 L902.8 164.5" stroke-width="2.1" fill="none"/>
<path d="M902.8 154.5 L900.3 149.7 L905.3 149.7Z" stroke-width="0.3" fill="#111"/>
<path d="M884.3 164 L902.8 174 L919 164" stroke-width="1" fill="none"/>
<path d="M902.8 174 L902.8 230.2" stroke-width="2.1" fill="none"/>
<text x="0" y="0" font-size="5.6" text-anchor="middle" transform="translate(899.6 203) rotate(-90) scale(0.86 1)" font-weight="bold" fill="#000" stroke="#000" stroke-width="0.12">PSL108-100M4.5-B</text>
<path d="M915 107 L980.5 107 L980.5 604.2 L814.5 604.2 L814.5 613.5" stroke-width="2.1" fill="none"/>
<path d="M975 107 L970.2 104.5 L970.2 109.5Z" stroke-width="0.3" fill="#111"/>
<path d="M980.5 390.5 L978 395.3 L983 395.3Z" stroke-width="0.3" fill="#111"/>
<rect x="922.75" y="104" width="10.5" height="6" stroke-width="1" fill="#fff"/>
<path d="M925.25 105.5 L930.75 108.5" stroke-width="1.2" fill="none"/>
<rect x="927.5" y="64.7" width="26" height="13" stroke-width="1" fill="none" rx="6.5"/>
<text x="940.5" y="70.6" font-size="4.6" text-anchor="middle" font-weight="bold" fill="#000" stroke="#000" stroke-width="0.22">PI</text>
<text x="940.5" y="75.5" font-size="5.15" text-anchor="middle" font-weight="bold" fill="#000" stroke="#000" stroke-width="0.1">1102</text>
<path d="M940.5 77.7 L940.5 107" stroke-width="1" fill="none"/>
<path d="M937 79.8 L944 79.8" stroke-width="1" fill="none"/>
<path d="M937.5 84.6 L943.5 84.6 L937.5 92.6 L943.5 92.6Z" stroke-width="1" fill="none"/>
<text x="0" y="0" font-size="5.6" text-anchor="middle" transform="translate(977.4 421) rotate(-90) scale(0.86 1)" font-weight="bold" fill="#000" stroke="#000" stroke-width="0.12">PSL104-80M-B</text>
<path d="M316 342 L316 230.2" stroke-width="1" fill="none"/>
<path d="M316 230.2 L902.8 230.2" stroke-width="2.1" fill="none"/>
<path d="M316 287 L313.5 282.2 L318.5 282.2Z" stroke-width="0.3" fill="#111"/>
<path d="M685 230.2 L689.8 227.7 L689.8 232.7Z" stroke-width="0.3" fill="#111"/>
<text x="0" y="0" font-size="5.6" text-anchor="middle" transform="translate(395.7 228.5) scale(0.86 1)" font-weight="bold" fill="#000" stroke="#000" stroke-width="0.12">PSL118-150M4.5-B</text>
<text x="0" y="0" font-size="5.6" text-anchor="middle" transform="translate(715 228.5) scale(0.86 1)" font-weight="bold" fill="#000" stroke="#000" stroke-width="0.12">PSL118-150M4.5-B</text>
<path d="M518.7 201 L516.2 205.8 L521.2 205.8Z" stroke-width="0.3" fill="#111"/>
<rect x="169.5" y="204.5" width="20" height="9.7" stroke-width="1" fill="none"/>
<text x="0" y="0" font-size="7.44" text-anchor="middle" transform="translate(179.5 212.3) scale(0.87 1)" fill="#000" stroke="#000" stroke-width="0.25">RA</text>
<path d="M189.5 209.5 L296 209.5 L296 260.8 L590.8 260.8 L590.8 324.5" stroke-width="1" fill="none"/>
<path d="M225.5 209.5 L220.7 207 L220.7 212Z" stroke-width="0.3" fill="#111"/>
<path d="M479 260.8 L474.2 258.3 L474.2 263.3Z" stroke-width="0.3" fill="#111"/>
<path d="M590.8 294 L588.3 289.2 L593.3 289.2Z" stroke-width="0.3" fill="#111"/>
<text x="0" y="0" font-size="5.6" text-anchor="middle" transform="translate(259 208.3) scale(0.86 1)" font-weight="bold" fill="#000" stroke="#000" stroke-width="0.12">PA103-32X3-B</text>
<text x="0" y="0" font-size="7.2" text-anchor="middle" transform="translate(111 243.8) scale(0.84 1)" font-weight="bold" fill="#000" stroke="#000" stroke-width="0.22">脱石灰石粉自</text>
<text x="0" y="0" font-size="7.2" text-anchor="middle" transform="translate(114.5 252.6) scale(0.84 1)" font-weight="bold" fill="#000" stroke="#000" stroke-width="0.22">液料三通切换(V102)</text>
<path d="M90.5 256 L132.5 256 L139 261.5 L132.5 267 L90.5 267Z" stroke-width="1" fill="none"/>
<text x="0" y="0" font-size="7.68" text-anchor="middle" transform="translate(110.3 264.1) scale(0.87 1)" fill="#000" stroke="#000" stroke-width="0.25">PR04.02</text>
<path d="M139 261.2 L152 261.2 L152 292" stroke-width="1.8" fill="none"/>
<path d="M152 277.5 L149.5 272.7 L154.5 272.7Z" stroke-width="0.3" fill="#111"/>
<path d="M173.7 266.6 L177.9 259.8 L194.5 259.8 L198.7 266.6 L194.5 273.4 L177.9 273.4Z" stroke-width="1" fill="none"/>
<path d="M173.7 266.6 L198.7 266.6" stroke-width="1" fill="none"/>
<text x="186.2" y="265.4" font-size="5.15" text-anchor="middle" font-weight="bold" fill="#000" stroke="#000" stroke-width="0.1">WISA</text>
<text x="186.2" y="271.4" font-size="5.15" text-anchor="middle" font-weight="bold" fill="#000" stroke="#000" stroke-width="0.1">1101</text>
<path d="M187 273.4 L187 292" stroke-width="1" fill="none"/>
<path d="M187 279.6 L115 279.6 L115 289.6" stroke-width="1" fill="none"/>
<path d="M103 296.2 L107.2 289.7 L122.8 289.7 L127 296.2 L122.8 302.7 L107.2 302.7Z" stroke-width="1" fill="none"/>
<path d="M103 296.2 L127 296.2" stroke-width="1" fill="none"/>
<text x="115" y="295" font-size="5.15" text-anchor="middle" font-weight="bold" fill="#000" stroke="#000" stroke-width="0.1">SISA</text>
<text x="115" y="301" font-size="5.15" text-anchor="middle" font-weight="bold" fill="#000" stroke="#000" stroke-width="0.1">1101</text>
<path d="M127 296.5 L141.5 296.5" stroke-width="1" fill="none"/>
<rect x="146" y="292" width="80" height="9" stroke-width="1.1" fill="none"/>
<circle cx="146" cy="296.5" r="4.5" stroke-width="1" fill="#fff"/>
<circle cx="226" cy="296.5" r="4.5" stroke-width="1" fill="#fff"/>
<path d="M146 292 L146 301" stroke-width="1" fill="none"/>
<path d="M226 292 L226 301" stroke-width="1" fill="none"/>
<path d="M146 301 L146 307.6" stroke-width="1" fill="none"/>
<path d="M133.5 314.4 L137.7 307.6 L154.3 307.6 L158.5 314.4 L154.3 321.2 L137.7 321.2Z" stroke-width="1" fill="none"/>
<path d="M133.5 314.4 L158.5 314.4" stroke-width="1" fill="none"/>
<text x="146" y="313.2" font-size="4.6" text-anchor="middle" font-weight="bold" fill="#000" stroke="#000" stroke-width="0.22">ZS</text>
<text x="146" y="319.2" font-size="5.15" text-anchor="middle" font-weight="bold" fill="#000" stroke="#000" stroke-width="0.1">1101</text>
<rect x="168" y="306" width="4.2" height="4.2" stroke-width="1" fill="none"/>
<path d="M172.2 308.2 L179.5 308.2" stroke-width="1" fill="none"/>
<path d="M179.5 308.2 L175.7 314 L183.3 314Z" stroke-width="1" fill="none"/>
<path d="M179.5 308.2 L187 308.2 L187 301" stroke-width="1" fill="none"/>
<text x="0" y="0" font-size="7.68" text-anchor="middle" transform="translate(202.5 310.3) scale(0.87 1)" fill="#000" stroke="#000" stroke-width="0.25">M112</text>
<path d="M230.5 296.5 L238 296.5" stroke-width="1" fill="none"/>
<circle cx="242.6" cy="296.5" r="4.5" stroke-width="1" fill="none"/>
<text x="242.6" y="298.5" font-size="5.6" text-anchor="middle" fill="#000" stroke="#000" stroke-width="0.22">M</text>
<path d="M250.6 296.5 L256.2 290.9 L261.8 296.5 L256.2 302.1Z" stroke-width="1" fill="none"/>
<text x="256.2" y="299.2" font-size="7.44" text-anchor="middle" fill="#000" stroke="#000" stroke-width="0.25">I</text>
<path d="M233 304.5 L233 317.5 L295 317.5 L295 344" stroke-width="2.1" fill="none"/>
<path d="M278 317.5 L273.2 315 L273.2 320Z" stroke-width="0.3" fill="#111"/>
<path d="M90.5 345 L132.5 345 L139.3 351.2 L132.5 357.5 L90.5 357.5Z" stroke-width="1" fill="none"/>
<text x="0" y="0" font-size="7.68" text-anchor="middle" transform="translate(110.5 353.9) scale(0.87 1)" fill="#000" stroke="#000" stroke-width="0.25">PR04 11</text>
<path d="M139.3 350.8 L307.5 350.8" stroke-width="2.1" fill="none"/>
<path d="M234.5 350.8 L229.7 348.3 L229.7 353.3Z" stroke-width="0.3" fill="#111"/>
<text x="0" y="0" font-size="5.6" text-anchor="middle" transform="translate(164 349.1) scale(0.86 1)" font-weight="bold" fill="#000" stroke="#000" stroke-width="0.12">PL428-25x3.5-I</text>
<text x="0" y="0" font-size="7.2" text-anchor="middle" transform="translate(179 360) scale(0.86 1)" font-weight="bold" fill="#000" stroke="#000" stroke-width="0.22">滤液自滤液泵(P405A,B)</text>
<path d="M303.5 355.5 L305.8 351.5 L308.2 355.5" stroke-width="0.8" fill="none"/>
<path d="M305.8 351 L305.8 355.5" stroke-width="0.8" fill="none"/>
<rect x="169.5" y="522.8" width="20" height="10" stroke-width="1" fill="none"/>
<text x="0" y="0" font-size="7.44" text-anchor="middle" transform="translate(179.5 530.9) scale(0.87 1)" fill="#000" stroke="#000" stroke-width="0.25">PW</text>
<path d="M189.5 527.8 L598.7 527.8" stroke-width="1" fill="none"/>
<path d="M235 527.8 L230.2 525.3 L230.2 530.3Z" stroke-width="0.3" fill="#111"/>
<path d="M379 527.8 L374.2 525.3 L374.2 530.3Z" stroke-width="0.3" fill="#111"/>
<path d="M526.5 527.8 L521.7 525.3 L521.7 530.3Z" stroke-width="0.3" fill="#111"/>
<text x="0" y="0" font-size="5.6" text-anchor="middle" transform="translate(262 526.3) scale(0.86 1)" font-weight="bold" fill="#000" stroke="#000" stroke-width="0.12">PW103-32x3-B</text>
<path d="M90.5 551 L132.8 551 L139.5 557 L132.8 563.2 L90.5 563.2Z" stroke-width="1" fill="none"/>
<text x="0" y="0" font-size="7.68" text-anchor="middle" transform="translate(110.5 559.9) scale(0.87 1)" fill="#000" stroke="#000" stroke-width="0.25">PR04,11</text>
<path d="M139.5 556.6 L673.7 556.6 L673.7 568.5" stroke-width="2.1" fill="none"/>
<path d="M234.5 556.6 L229.7 554.1 L229.7 559.1Z" stroke-width="0.3" fill="#111"/>
<text x="0" y="0" font-size="7.2" text-anchor="middle" transform="translate(180.5 555) scale(0.86 1)" font-weight="bold" fill="#000" stroke="#000" stroke-width="0.22">滤液自滤液泵(P405A,B)</text>
<text x="0" y="0" font-size="5.6" text-anchor="middle" transform="translate(262.5 554.9) scale(0.86 1)" font-weight="bold" fill="#000" stroke="#000" stroke-width="0.12">PL434-25x3.5-I</text>
<path d="M267 238.2H699.3V509.2H267Z" stroke-width="1" fill="none" stroke-dasharray="9 2 1.5 2"/>
<path d="M272.5 344 L324.5 344 L324.5 394Z" stroke-width="1.1" fill="none"/>
<path d="M324.5 349.5 L333.8 349.5" stroke-width="1" fill="none"/>
<path d="M324.5 390.8 L333.8 390.8" stroke-width="1" fill="none"/>
<rect x="333.8" y="337" width="50.7" height="65" stroke-width="1.1" fill="none"/>
<path d="M384.5 349.5 L393 349.5" stroke-width="1" fill="none"/>
<path d="M384.5 390.8 L393 390.8" stroke-width="1" fill="none"/>
<path d="M393 349.5 L393 390.8" stroke-width="1" fill="none"/>
<path d="M393 349.5 L401 344.8 L588.8 344.8 L598 349.5 L598 390.8 L588.8 395.6 L401 395.6 L393 390.8" stroke-width="1.1" fill="none"/>
<path d="M401 344.8 L401 395.6" stroke-width="0.8" fill="none"/>
<path d="M588.8 344.8 L588.8 395.6" stroke-width="0.8" fill="none"/>
<path d="M598 349.5 L605.6 349.5" stroke-width="1" fill="none"/>
<path d="M598 390.8 L605.6 390.8" stroke-width="1" fill="none"/>
<rect x="570" y="337" width="5.6" height="65" stroke-width="1" fill="#fff"/>
<path d="M570 342 L575.6 342" stroke-width="0.9" fill="none"/>
<path d="M570 347 L575.6 347" stroke-width="0.9" fill="none"/>
<path d="M570 352 L575.6 352" stroke-width="0.9" fill="none"/>
<path d="M570 357 L575.6 357" stroke-width="0.9" fill="none"/>
<path d="M570 362 L575.6 362" stroke-width="0.9" fill="none"/>
<path d="M570 367 L575.6 367" stroke-width="0.9" fill="none"/>
<path d="M570 372 L575.6 372" stroke-width="0.9" fill="none"/>
<path d="M570 377 L575.6 377" stroke-width="0.9" fill="none"/>
<path d="M570 382 L575.6 382" stroke-width="0.9" fill="none"/>
<path d="M570 387 L575.6 387" stroke-width="0.9" fill="none"/>
<path d="M570 392 L575.6 392" stroke-width="0.9" fill="none"/>
<path d="M570 397 L575.6 397" stroke-width="0.9" fill="none"/>
<rect x="605.6" y="337" width="57.9" height="65" stroke-width="1.1" fill="none"/>
<path d="M663.5 349.5 L673 349.5" stroke-width="1" fill="none"/>
<path d="M663.5 390.8 L673 390.8" stroke-width="1" fill="none"/>
<path d="M673 404.5 L673 327.8 L691.8 327.8 L691.8 404.5 L682.5 415.8 L673 404.5" stroke-width="1.1" fill="none"/>
<text x="0" y="0" font-size="7.68" text-anchor="middle" transform="translate(468.5 373.7) scale(0.87 1)" fill="#000" stroke="#000" stroke-width="0.25">M113</text>
<path d="M692.5 404 L692.5 432.5 L717.5 432.5 L717.5 452.5" stroke-width="1" fill="none"/>
<path d="M692.5 404 L692.5 425" stroke-width="1.6" fill="none"/>
<path d="M692.5 422 L690.5 418.2 L694.5 418.2Z" stroke-width="0.3" fill="#111"/>
<path d="M709.2 452.5 L709.2 458 L725.2 458 L725.2 452.5" stroke-width="1" fill="none"/>
<path d="M682.5 415.8 L682.5 568.5" stroke-width="2.1" fill="none"/>
<path d="M682.5 532.8 L680 528 L685 528Z" stroke-width="0.3" fill="#111"/>
<text x="0" y="0" font-size="5.6" text-anchor="middle" transform="translate(689.4 486) rotate(-90) scale(0.86 1)" font-weight="bold" fill="#000" stroke="#000" stroke-width="0.12">PSL101-350M5-B</text>
<path d="M348.5 324.5 L352.7 318 L368.3 318 L372.5 324.5 L368.3 331 L352.7 331Z" stroke-width="1" fill="none"/>
<path d="M348.5 324.5 L372.5 324.5" stroke-width="1" fill="none"/>
<text x="360.5" y="323.3" font-size="5.15" text-anchor="middle" font-weight="bold" fill="#000" stroke="#000" stroke-width="0.1">TISL</text>
<text x="360.5" y="329.3" font-size="5.15" text-anchor="middle" font-weight="bold" fill="#000" stroke="#000" stroke-width="0.1">1101</text>
<path d="M360.5 331 L360.5 337" stroke-width="1" fill="none"/>
<text x="373.9" y="332.7" font-size="4.8" text-anchor="middle" font-weight="bold" fill="#000" stroke="#000" stroke-width="0.15">M1</text>
<path d="M622.5 324.5 L626.7 318 L642.3 318 L646.5 324.5 L642.3 331 L626.7 331Z" stroke-width="1" fill="none"/>
<path d="M622.5 324.5 L646.5 324.5" stroke-width="1" fill="none"/>
<text x="634.5" y="323.3" font-size="5.15" text-anchor="middle" font-weight="bold" fill="#000" stroke="#000" stroke-width="0.1">TISL</text>
<text x="634.5" y="329.3" font-size="5.15" text-anchor="middle" font-weight="bold" fill="#000" stroke="#000" stroke-width="0.1">1104</text>
<path d="M634.5 331 L634.5 337" stroke-width="1" fill="none"/>
<text x="647.9" y="332.7" font-size="4.8" text-anchor="middle" font-weight="bold" fill="#000" stroke="#000" stroke-width="0.15">M2</text>
<path d="M428.8 384.5 L433 378 L448.6 378 L452.8 384.5 L448.6 391 L433 391Z" stroke-width="1" fill="none"/>
<path d="M428.8 384.5 L452.8 384.5" stroke-width="1" fill="none"/>
<text x="440.8" y="383.3" font-size="5.15" text-anchor="middle" font-weight="bold" fill="#000" stroke="#000" stroke-width="0.1">TISL</text>
<text x="440.8" y="389.3" font-size="5.15" text-anchor="middle" font-weight="bold" fill="#000" stroke="#000" stroke-width="0.1">1103</text>
<path d="M440.8 391 L440.8 402" stroke-width="1" fill="none"/>
<text x="453.9" y="392" font-size="4.8" text-anchor="middle" font-weight="bold" fill="#000" stroke="#000" stroke-width="0.15">M1</text>
<path d="M480 384.5 L484.2 378 L499.8 378 L504 384.5 L499.8 391 L484.2 391Z" stroke-width="1" fill="none"/>
<path d="M480 384.5 L504 384.5" stroke-width="1" fill="none"/>
<text x="492" y="383.3" font-size="5.15" text-anchor="middle" font-weight="bold" fill="#000" stroke="#000" stroke-width="0.1">TISL</text>
<text x="492" y="389.3" font-size="5.15" text-anchor="middle" font-weight="bold" fill="#000" stroke="#000" stroke-width="0.1">1105</text>
<path d="M492 391 L492 400" stroke-width="1" fill="none"/>
<text x="505.4" y="392" font-size="4.8" text-anchor="middle" font-weight="bold" fill="#000" stroke="#000" stroke-width="0.15">M2</text>
<rect x="389.65" y="242.3" width="24.5" height="13" stroke-width="1" fill="none" rx="6.5"/>
<text x="401.9" y="248.2" font-size="4.6" text-anchor="middle" font-weight="bold" fill="#000" stroke="#000" stroke-width="0.22">PI</text>
<text x="401.9" y="253.1" font-size="5.15" text-anchor="middle" font-weight="bold" fill="#000" stroke="#000" stroke-width="0.1">1101</text>
<text x="416.4" y="256.2" font-size="4.8" text-anchor="middle" font-weight="bold" fill="#000" stroke="#000" stroke-width="0.15">M1</text>
<path d="M401.8 255.3 L401.8 260.8" stroke-width="1" fill="none"/>
<path d="M422.4 251.5 L428 245.9 L433.6 251.5 L428 257.1Z" stroke-width="1" fill="none"/>
<text x="428" y="254.2" font-size="7.44" text-anchor="middle" fill="#000" stroke="#000" stroke-width="0.25">I</text>
<rect x="439.05" y="246.75" width="9.5" height="9.5" stroke-width="1" fill="none"/>
<text x="443.8" y="254.1" font-size="7.5" text-anchor="middle" fill="#000" stroke="#000" stroke-width="0.22">S</text>
<path d="M433.6 251.5 L439 251.5" stroke-width="1" fill="none"/>
<path d="M443.8 256.3 L443.8 265" stroke-width="1" fill="none"/>
<path d="M438.3 265.8 L438.3 271 L443.8 268.4Z" stroke-width="1" fill="none"/>
<path d="M449.3 265.8 L449.3 271 L443.8 268.4Z" stroke-width="1" fill="none"/>
<path d="M441.2 273.9 L446.4 273.9 L443.8 268.4Z" stroke-width="1" fill="none"/>
<path d="M590.8 260.8 L553 260.8 L553 324.5" stroke-width="1" fill="none"/>
<path d="M553 294 L550.5 289.2 L555.5 289.2Z" stroke-width="0.3" fill="#111"/>
<path d="M449.3 268.2 L572 268.2 L572 308.5" stroke-width="1" fill="none"/>
<path d="M476 268.2 L471.2 265.7 L471.2 270.7Z" stroke-width="0.3" fill="#111"/>
<path d="M438.3 268.2 L431 268.2 L431 289.5" stroke-width="1" fill="none"/>
<path d="M431 282 L434.5 282" stroke-width="0.8" fill="none"/>
<path d="M432.8 280.3 L432.8 283.8" stroke-width="0.8" fill="none"/>
<path d="M443.8 274 L443.8 304" stroke-width="1" fill="none"/>
<path d="M443.8 290 L441.3 285.2 L446.3 285.2Z" stroke-width="0.3" fill="#111"/>
<rect x="356" y="263.5" width="24" height="13" stroke-width="1" fill="none" rx="6.5"/>
<text x="368" y="269.4" font-size="4.6" text-anchor="middle" font-weight="bold" fill="#000" stroke="#000" stroke-width="0.22">PI</text>
<text x="368" y="274.3" font-size="5.15" text-anchor="middle" font-weight="bold" fill="#000" stroke="#000" stroke-width="0.1">1104</text>
<text x="381.9" y="276.7" font-size="4.8" text-anchor="middle" font-weight="bold" fill="#000" stroke="#000" stroke-width="0.15">M1</text>
<path d="M380 270 L398 270" stroke-width="1" fill="none"/>
<path d="M398 260.8 L398 300.8" stroke-width="1.8" fill="none"/>
<path d="M398 285 L396 281.2 L400 281.2Z" stroke-width="0.3" fill="#111"/>
<text x="0" y="0" font-size="5.6" text-anchor="middle" transform="translate(395.2 291) rotate(-90) scale(0.86 1)" font-weight="bold" fill="#000" stroke="#000" stroke-width="0.12">PA104-32x3-B</text>
<path d="M401.9 272.5 L407.5 266.9 L413.1 272.5 L407.5 278.1Z" stroke-width="1" fill="none"/>
<text x="407.5" y="275.2" font-size="7.44" text-anchor="middle" fill="#000" stroke="#000" stroke-width="0.25">I</text>
<rect x="402.75" y="282.45" width="9.5" height="9.5" stroke-width="1" fill="none"/>
<text x="407.5" y="289.8" font-size="7.5" text-anchor="middle" fill="#000" stroke="#000" stroke-width="0.22">S</text>
<path d="M407.5 278 L407.5 282.4" stroke-width="1" fill="none"/>
<path d="M407.5 292 L407.5 299" stroke-width="1" fill="none"/>
<path d="M398 300.8 L404.6 300.8" stroke-width="1" fill="none"/>
<path d="M404.6 298.9 L404.6 303.7 L411.4 298.9 L411.4 303.7Z" stroke-width="1" fill="none"/>
<path d="M411.4 301.3 L413.8 301.3" stroke-width="1" fill="none"/>
<path d="M417.4 272.5 L423 266.9 L428.6 272.5 L423 278.1Z" stroke-width="1" fill="none"/>
<text x="423" y="275.2" font-size="7.44" text-anchor="middle" fill="#000" stroke="#000" stroke-width="0.25">I</text>
<path d="M423 278 L423 282.6" stroke-width="1" fill="none"/>
<circle cx="423.8" cy="289.6" r="7" stroke-width="1.1" fill="none"/>
<path d="M423.8 289.6 L423.8 320.8" stroke-width="2.1" fill="none"/>
<rect x="413.8" y="304" width="35.7" height="23" stroke-width="1.1" fill="none"/>
<path d="M413.8 309.6 L449.5 309.6" stroke-width="1" fill="none"/>
<path d="M417.5 314 L442.5 314" stroke-width="1" fill="none"/>
<path d="M427.5 318.2 L435 318.2" stroke-width="1" fill="none"/>
<path d="M446.5 304 L452 304" stroke-width="0.9" fill="none"/>
<rect x="456.75" y="310.7" width="22.5" height="12.6" stroke-width="1" fill="none" rx="6.3"/>
<text x="0" y="0" font-size="5.9" text-anchor="middle" transform="translate(468 319.2) scale(1.1 1)" fill="#000" stroke="#000" stroke-width="0.22">LI</text>
<path d="M449.5 317 L456.8 317" stroke-width="1" fill="none"/>
<text x="480.9" y="324.6" font-size="4.8" text-anchor="middle" font-weight="bold" fill="#000" stroke="#000" stroke-width="0.15">M1</text>
<path d="M376.8 317 L381 310.5 L396.6 310.5 L400.8 317 L396.6 323.5 L381 323.5Z" stroke-width="1" fill="none"/>
<path d="M376.8 317 L400.8 317" stroke-width="1" fill="none"/>
<text x="388.8" y="315.8" font-size="5.15" text-anchor="middle" font-weight="bold" fill="#000" stroke="#000" stroke-width="0.1">TISL</text>
<text x="388.8" y="321.8" font-size="5.15" text-anchor="middle" font-weight="bold" fill="#000" stroke="#000" stroke-width="0.1">1102</text>
<path d="M400.8 317 L413.8 317" stroke-width="1" fill="none"/>
<text x="401.9" y="324.6" font-size="4.8" text-anchor="middle" font-weight="bold" fill="#000" stroke="#000" stroke-width="0.15">M1</text>
<path d="M482.4 245.8 L488 240.2 L493.6 245.8 L488 251.4Z" stroke-width="1" fill="none"/>
<text x="488" y="248.5" font-size="7.44" text-anchor="middle" fill="#000" stroke="#000" stroke-width="0.25">I</text>
<rect x="497.5" y="241.5" width="10" height="10" stroke-width="1" fill="none"/>
<text x="502.5" y="249.1" font-size="7.5" text-anchor="middle" fill="#000" stroke="#000" stroke-width="0.22">S</text>
<path d="M493.6 245.8 L497.5 245.8" stroke-width="1" fill="none"/>
<path d="M502.5 251.5 L502.5 258" stroke-width="1" fill="none"/>
<path d="M496.9 257.5 L496.9 264.1 L508.1 257.5 L508.1 264.1Z" stroke-width="1" fill="none"/>
<path d="M526.75 247.5 L530.95 241.2 L547.05 241.2 L551.25 247.5 L547.05 253.8 L530.95 253.8Z" stroke-width="1" fill="none"/>
<path d="M526.75 247.5 L551.25 247.5" stroke-width="1" fill="none"/>
<text x="539" y="246.3" font-size="5.15" text-anchor="middle" font-weight="bold" fill="#000" stroke="#000" stroke-width="0.1">PISL</text>
<text x="539" y="252.3" font-size="5.15" text-anchor="middle" font-weight="bold" fill="#000" stroke="#000" stroke-width="0.1">1106</text>
<text x="553.4" y="255.6" font-size="4.8" text-anchor="middle" font-weight="bold" fill="#000" stroke="#000" stroke-width="0.15">M1</text>
<path d="M539.5 253.8 L539.5 260.8" stroke-width="1" fill="none"/>
<text x="0" y="0" font-size="5.6" text-anchor="middle" transform="translate(550.7 300) rotate(-90) scale(0.86 1)" font-weight="bold" fill="#000" stroke="#000" stroke-width="0.12">PA105-25x3-B</text>
<rect x="569.5" y="308.5" width="5" height="5" stroke-width="1" fill="none"/>
<path d="M570.5 311 L573.5 311" stroke-width="0.8" fill="none"/>
<path d="M559.5 330.8 L559.5 311 L569.5 311" stroke-width="1" fill="none"/>
<path d="M574.5 311 L595.6 311" stroke-width="1" fill="none"/>
<path d="M583.8 311 L583.8 330.8" stroke-width="1" fill="none"/>
<path d="M553 324.5 L559.5 324.5" stroke-width="1.8" fill="none"/>
<path d="M583.8 324.5 L590.8 324.5" stroke-width="1.8" fill="none"/>
<text x="561" y="335.5" font-size="3.4" text-anchor="middle" font-weight="bold" fill="#000" stroke="#000" stroke-width="0.22">K</text>
<text x="583" y="335.5" font-size="3.4" text-anchor="middle" font-weight="bold" fill="#000" stroke="#000" stroke-width="0.22">Y</text>
<path d="M595.5 310.8 L599.7 304.3 L615.3 304.3 L619.5 310.8 L615.3 317.3 L599.7 317.3Z" stroke-width="1" fill="none"/>
<path d="M595.5 310.8 L619.5 310.8" stroke-width="1" fill="none"/>
<text x="607.5" y="309.6" font-size="5.15" text-anchor="middle" font-weight="bold" fill="#000" stroke="#000" stroke-width="0.1">TISL</text>
<text x="607.5" y="315.6" font-size="5.15" text-anchor="middle" font-weight="bold" fill="#000" stroke="#000" stroke-width="0.1">1106</text>
<text x="620.9" y="318.7" font-size="4.8" text-anchor="middle" font-weight="bold" fill="#000" stroke="#000" stroke-width="0.15">M1</text>
<path d="M346.2 402 L346.2 480" stroke-width="2.1" fill="none"/>
<path d="M346.2 436 L343.7 431.2 L348.7 431.2Z" stroke-width="0.3" fill="#111"/>
<path d="M366.3 402 L366.3 437.8" stroke-width="1.8" fill="none"/>
<path d="M366.3 425.5 L363.8 430.3 L368.8 430.3Z" stroke-width="0.3" fill="#111"/>
<path d="M366.3 420.2 L375 420.2" stroke-width="1" fill="none"/>
<path d="M375 420.2 L379.2 413.7 L394.8 413.7 L399 420.2 L394.8 426.7 L379.2 426.7Z" stroke-width="1" fill="none"/>
<path d="M375 420.2 L399 420.2" stroke-width="1" fill="none"/>
<text x="387" y="419" font-size="5.15" text-anchor="middle" font-weight="bold" fill="#000" stroke="#000" stroke-width="0.1">TISL</text>
<text x="387" y="425" font-size="5.15" text-anchor="middle" font-weight="bold" fill="#000" stroke="#000" stroke-width="0.1">1107</text>
<text x="399.9" y="427.8" font-size="4.8" text-anchor="middle" font-weight="bold" fill="#000" stroke="#000" stroke-width="0.15">M1</text>
<path d="M366.3 437.8 L386.3 437.8" stroke-width="1" fill="none"/>
<path d="M366.3 437.8 L366.3 440.2 L363.5 441.2 L368.7 449 L367.3 449.6 L367.3 459.5" stroke-width="1" fill="none"/>
<path d="M363.7 441.2 L367.7 441.2" stroke-width="1" fill="none"/>
<path d="M364.1 452.6 L369.9 452.6" stroke-width="1.1" fill="none"/>
<path d="M364.1 455.6 L369.9 455.6" stroke-width="1.1" fill="none"/>
<path d="M386.3 437.8 L386.3 440.2 L383.5 441.2 L388.7 449 L387.3 449.6 L387.3 459.5" stroke-width="1" fill="none"/>
<path d="M383.7 441.2 L387.7 441.2" stroke-width="1" fill="none"/>
<path d="M384.1 452.6 L389.9 452.6" stroke-width="1.1" fill="none"/>
<path d="M384.1 455.6 L389.9 455.6" stroke-width="1.1" fill="none"/>
<circle cx="358.8" cy="466.3" r="7.5" stroke-width="1.1" fill="none"/>
<circle cx="379.3" cy="466.3" r="7.5" stroke-width="1.1" fill="none"/>
<path d="M358.8 466.3 L358.8 495" stroke-width="2.1" fill="none"/>
<path d="M379.3 466.3 L379.3 495" stroke-width="2.1" fill="none"/>
<path d="M331 466.3 L337 460.3 L343 466.3 L337 472.3Z" stroke-width="1" fill="none"/>
<text x="337" y="469" font-size="7.44" text-anchor="middle" fill="#000" stroke="#000" stroke-width="0.25">I</text>
<path d="M391.8 466.3 L397.8 460.3 L403.8 466.3 L397.8 472.3Z" stroke-width="1" fill="none"/>
<text x="397.8" y="469" font-size="7.44" text-anchor="middle" fill="#000" stroke="#000" stroke-width="0.25">I</text>
<path d="M343 466.3 L351.3 466.3" stroke-width="1" fill="none"/>
<path d="M386.8 466.3 L391.8 466.3" stroke-width="1" fill="none"/>
<rect x="329.5" y="480" width="57.5" height="22.8" stroke-width="1.1" fill="none"/>
<path d="M324.5 480 L389.8 480" stroke-width="2.1" fill="none"/>
<path d="M329.5 487.6 L387 487.6" stroke-width="1" fill="none"/>
<path d="M294.5 486.6 L298.7 480.1 L314.3 480.1 L318.5 486.6 L314.3 493.1 L298.7 493.1Z" stroke-width="1" fill="none"/>
<path d="M294.5 486.6 L318.5 486.6" stroke-width="1" fill="none"/>
<text x="306.5" y="485.4" font-size="5.15" text-anchor="middle" font-weight="bold" fill="#000" stroke="#000" stroke-width="0.1">TISL</text>
<text x="306.5" y="491.4" font-size="5.15" text-anchor="middle" font-weight="bold" fill="#000" stroke="#000" stroke-width="0.1">1108</text>
<path d="M318.5 486.6 L329.5 486.6" stroke-width="1" fill="none"/>
<text x="319.4" y="494.7" font-size="4.8" text-anchor="middle" font-weight="bold" fill="#000" stroke="#000" stroke-width="0.15">M1</text>
<rect x="391.8" y="477.3" width="24" height="12.6" stroke-width="1" fill="none" rx="6.3"/>
<text x="0" y="0" font-size="5.9" text-anchor="middle" transform="translate(403.8 485.9) scale(1.1 1)" fill="#000" stroke="#000" stroke-width="0.22">LI</text>
<path d="M387 483.6 L391.8 483.6" stroke-width="1" fill="none"/>
<path d="M392 497.6 L396.2 491.1 L411.8 491.1 L416 497.6 L411.8 504.1 L396.2 504.1Z" stroke-width="1" fill="none"/>
<path d="M392 497.6 L416 497.6" stroke-width="1" fill="none"/>
<text x="404" y="496.4" font-size="5.15" text-anchor="middle" font-weight="bold" fill="#000" stroke="#000" stroke-width="0.1">TISL</text>
<text x="404" y="502.4" font-size="5.15" text-anchor="middle" font-weight="bold" fill="#000" stroke="#000" stroke-width="0.1">1109</text>
<path d="M387 497.6 L392 497.6" stroke-width="1" fill="none"/>
<text x="416.9" y="490.2" font-size="4.8" text-anchor="middle" font-weight="bold" fill="#000" stroke="#000" stroke-width="0.15">M1</text>
<text x="416.9" y="504.2" font-size="4.8" text-anchor="middle" font-weight="bold" fill="#000" stroke="#000" stroke-width="0.15">M1</text>
<path d="M334.5 503 L334.5 495.5 L338.5 502 L342.5 495.5 L342.5 503" stroke-width="1.1" fill="none"/>
<path d="M609.5 402 L609.5 480" stroke-width="2.1" fill="none"/>
<path d="M609.5 440 L607 435.2 L612 435.2Z" stroke-width="0.3" fill="#111"/>
<path d="M629.6 402 L629.6 437.8" stroke-width="1.8" fill="none"/>
<path d="M629.6 425.5 L627.1 430.3 L632.1 430.3Z" stroke-width="0.3" fill="#111"/>
<path d="M629.6 420.2 L638.3 420.2" stroke-width="1" fill="none"/>
<path d="M638.3 420.2 L642.5 413.7 L658.1 413.7 L662.3 420.2 L658.1 426.7 L642.5 426.7Z" stroke-width="1" fill="none"/>
<path d="M638.3 420.2 L662.3 420.2" stroke-width="1" fill="none"/>
<text x="650.3" y="419" font-size="5.15" text-anchor="middle" font-weight="bold" fill="#000" stroke="#000" stroke-width="0.1">TISL</text>
<text x="650.3" y="425" font-size="5.15" text-anchor="middle" font-weight="bold" fill="#000" stroke="#000" stroke-width="0.1">1110</text>
<text x="663.2" y="427.8" font-size="4.8" text-anchor="middle" font-weight="bold" fill="#000" stroke="#000" stroke-width="0.15">M1</text>
<path d="M629.6 437.8 L649.6 437.8" stroke-width="1" fill="none"/>
<path d="M629.6 437.8 L629.6 440.2 L626.8 441.2 L632 449 L630.6 449.6 L630.6 459.5" stroke-width="1" fill="none"/>
<path d="M627 441.2 L631 441.2" stroke-width="1" fill="none"/>
<path d="M627.4 452.6 L633.2 452.6" stroke-width="1.1" fill="none"/>
<path d="M627.4 455.6 L633.2 455.6" stroke-width="1.1" fill="none"/>
<path d="M649.6 437.8 L649.6 440.2 L646.8 441.2 L652 449 L650.6 449.6 L650.6 459.5" stroke-width="1" fill="none"/>
<path d="M647 441.2 L651 441.2" stroke-width="1" fill="none"/>
<path d="M647.4 452.6 L653.2 452.6" stroke-width="1.1" fill="none"/>
<path d="M647.4 455.6 L653.2 455.6" stroke-width="1.1" fill="none"/>
<circle cx="622.1" cy="466.3" r="7.5" stroke-width="1.1" fill="none"/>
<circle cx="642.6" cy="466.3" r="7.5" stroke-width="1.1" fill="none"/>
<path d="M622.1 466.3 L622.1 495" stroke-width="1" fill="none"/>
<path d="M642.6 466.3 L642.6 495" stroke-width="1" fill="none"/>
<path d="M594.3 466.3 L600.3 460.3 L606.3 466.3 L600.3 472.3Z" stroke-width="1" fill="none"/>
<text x="600.3" y="469" font-size="7.44" text-anchor="middle" fill="#000" stroke="#000" stroke-width="0.25">I</text>
<path d="M655.1 466.3 L661.1 460.3 L667.1 466.3 L661.1 472.3Z" stroke-width="1" fill="none"/>
<text x="661.1" y="469" font-size="7.44" text-anchor="middle" fill="#000" stroke="#000" stroke-width="0.25">I</text>
<path d="M606.3 466.3 L614.6 466.3" stroke-width="1" fill="none"/>
<path d="M650.1 466.3 L655.1 466.3" stroke-width="1" fill="none"/>
<rect x="592.8" y="480" width="57.5" height="22.8" stroke-width="1.1" fill="none"/>
<path d="M587.8 480 L653.1 480" stroke-width="2.1" fill="none"/>
<path d="M592.8 487.6 L650.3 487.6" stroke-width="1" fill="none"/>
<path d="M557.8 486.6 L562 480.1 L577.6 480.1 L581.8 486.6 L577.6 493.1 L562 493.1Z" stroke-width="1" fill="none"/>
<path d="M557.8 486.6 L581.8 486.6" stroke-width="1" fill="none"/>
<text x="569.8" y="485.4" font-size="5.15" text-anchor="middle" font-weight="bold" fill="#000" stroke="#000" stroke-width="0.1">TISL</text>
<text x="569.8" y="491.4" font-size="5.15" text-anchor="middle" font-weight="bold" fill="#000" stroke="#000" stroke-width="0.1">1111</text>
<path d="M581.8 486.6 L592.8 486.6" stroke-width="1" fill="none"/>
<text x="582.7" y="494.7" font-size="4.8" text-anchor="middle" font-weight="bold" fill="#000" stroke="#000" stroke-width="0.15">M1</text>
<rect x="655.1" y="477.3" width="24" height="12.6" stroke-width="1" fill="none" rx="6.3"/>
<text x="0" y="0" font-size="5.9" text-anchor="middle" transform="translate(667.1 485.9) scale(1.1 1)" fill="#000" stroke="#000" stroke-width="0.22">LI</text>
<path d="M650.3 483.6 L655.1 483.6" stroke-width="1" fill="none"/>
<path d="M655.3 497.6 L659.5 491.1 L675.1 491.1 L679.3 497.6 L675.1 504.1 L659.5 504.1Z" stroke-width="1" fill="none"/>
<path d="M655.3 497.6 L679.3 497.6" stroke-width="1" fill="none"/>
<text x="667.3" y="496.4" font-size="5.15" text-anchor="middle" font-weight="bold" fill="#000" stroke="#000" stroke-width="0.1">TISL</text>
<text x="667.3" y="502.4" font-size="5.15" text-anchor="middle" font-weight="bold" fill="#000" stroke="#000" stroke-width="0.1">1112</text>
<path d="M650.3 497.6 L655.3 497.6" stroke-width="1" fill="none"/>
<text x="680.2" y="490.2" font-size="4.8" text-anchor="middle" font-weight="bold" fill="#000" stroke="#000" stroke-width="0.15">M1</text>
<text x="680.2" y="504.2" font-size="4.8" text-anchor="middle" font-weight="bold" fill="#000" stroke="#000" stroke-width="0.15">M1</text>
<path d="M598.5 503 L598.5 492.8 L603.5 502 L608.4 492.8 L608.4 503" stroke-width="1.1" fill="none"/>
<path d="M440.8 402 L414.7 402" stroke-width="1" fill="none"/>
<path d="M414.7 402 L487.8 402" stroke-width="2.1" fill="none"/>
<path d="M414.7 402 L414.7 459 L438.3 459" stroke-width="1" fill="none"/>
<path d="M414.7 419 L412.2 423.8 L417.2 423.8Z" stroke-width="0.3" fill="#111"/>
<path d="M496.7 402 L570 402" stroke-width="1" fill="none"/>
<rect x="511.8" y="400.8" width="2.4" height="2.4" stroke-width="0.8" fill="#111"/>
<rect x="487.8" y="400" width="8.9" height="34.7" stroke-width="1.1" fill="#fff"/>
<path d="M487.8 414 L496.7 414" stroke-width="1" fill="none"/>
<path d="M490.5 417.5 L494 417.5" stroke-width="0.8" fill="none"/>
<path d="M457 411.7 L461.2 405.2 L476.8 405.2 L481 411.7 L476.8 418.2 L461.2 418.2Z" stroke-width="1" fill="none"/>
<path d="M457 411.7 L481 411.7" stroke-width="1" fill="none"/>
<text x="469" y="410.5" font-size="5.15" text-anchor="middle" font-weight="bold" fill="#000" stroke="#000" stroke-width="0.1">TISL</text>
<text x="469" y="416.5" font-size="5.15" text-anchor="middle" font-weight="bold" fill="#000" stroke="#000" stroke-width="0.1">1106</text>
<path d="M481 411.7 L487.8 411.7" stroke-width="1" fill="none"/>
<text x="482.4" y="419.7" font-size="4.8" text-anchor="middle" font-weight="bold" fill="#000" stroke="#000" stroke-width="0.15">M1</text>
<rect x="416.3" y="424.15" width="23.4" height="13.3" stroke-width="1" fill="none" rx="6.65"/>
<text x="428" y="430.2" font-size="5.15" text-anchor="middle" font-weight="bold" fill="#000" stroke="#000" stroke-width="0.1">TIV</text>
<text x="428" y="435.1" font-size="5.15" text-anchor="middle" font-weight="bold" fill="#000" stroke="#000" stroke-width="0.1">1107</text>
<path d="M432 437.5 L442.5 456.5" stroke-width="0.9" fill="none"/>
<circle cx="444" cy="446.7" r="4.7" stroke-width="1" fill="none"/>
<text x="444" y="448.7" font-size="5.6" text-anchor="middle" fill="#000" stroke="#000" stroke-width="0.22">M</text>
<path d="M444 451.4 L444 459" stroke-width="1" fill="none"/>
<path d="M438.5 457 L438.5 462.2 L444 459.6Z" stroke-width="1" fill="none"/>
<path d="M449.5 457 L449.5 462.2 L444 459.6Z" stroke-width="1" fill="none"/>
<path d="M441.4 465.1 L446.6 465.1 L444 459.6Z" stroke-width="1" fill="none"/>
<rect x="453.8" y="456.8" width="8" height="4.8" stroke-width="1" fill="none" rx="1.2"/>
<path d="M449.5 459.2 L453.8 459.2" stroke-width="1" fill="none"/>
<path d="M456 456.8 L456 461.6" stroke-width="0.8" fill="none"/>
<path d="M459.6 456.8 L459.6 461.6" stroke-width="0.8" fill="none"/>
<path d="M461.8 459.2 L497.5 459.2" stroke-width="1" fill="none"/>
<path d="M457 440.3 L461.2 433.8 L476.8 433.8 L481 440.3 L476.8 446.8 L461.2 446.8Z" stroke-width="1" fill="none"/>
<path d="M457 440.3 L481 440.3" stroke-width="1" fill="none"/>
<text x="469" y="439.1" font-size="5.15" text-anchor="middle" font-weight="bold" fill="#000" stroke="#000" stroke-width="0.1">TISL</text>
<text x="469" y="445.1" font-size="5.15" text-anchor="middle" font-weight="bold" fill="#000" stroke="#000" stroke-width="0.1">1104</text>
<path d="M481 439 L491 439" stroke-width="1" fill="none"/>
<text x="482.4" y="448.2" font-size="4.8" text-anchor="middle" font-weight="bold" fill="#000" stroke="#000" stroke-width="0.15">M1</text>
<rect x="491" y="437.2" width="3.2" height="3.2" stroke-width="0.9" fill="none"/>
<path d="M492.6 434.7 L492.6 437.2" stroke-width="1" fill="none"/>
<path d="M492.6 440.4 L492.6 445.4" stroke-width="1" fill="none"/>
<circle cx="491.8" cy="450" r="4.7" stroke-width="1" fill="none"/>
<text x="491.8" y="452" font-size="5.6" text-anchor="middle" fill="#000" stroke="#000" stroke-width="0.22">M</text>
<path d="M473.7 452.6 L479.7 446.6 L485.7 452.6 L479.7 458.6Z" stroke-width="1" fill="none"/>
<text x="479.7" y="455.3" font-size="7.44" text-anchor="middle" fill="#000" stroke="#000" stroke-width="0.25">I</text>
<path d="M496.5 450.8 L509.5 450.8" stroke-width="1" fill="none"/>
<path d="M496.7 422.6 L521.7 422.6" stroke-width="1" fill="none"/>
<rect x="511.8" y="421.4" width="2.4" height="2.4" stroke-width="0.8" fill="#111"/>
<rect x="521.7" y="419.7" width="10" height="5.7" stroke-width="1" fill="#fff"/>
<path d="M531.7 422.6 L540.8 422.6" stroke-width="1" fill="none"/>
<rect x="540.8" y="419.7" width="10" height="5.7" stroke-width="1" fill="#fff"/>
<path d="M550.8 422.6 L554 422.6" stroke-width="1" fill="none"/>
<circle cx="558.7" cy="423" r="4.7" stroke-width="1" fill="none"/>
<text x="558.7" y="425" font-size="5.6" text-anchor="middle" fill="#000" stroke="#000" stroke-width="0.22">M</text>
<path d="M567.8 423 L573.4 417.4 L579 423 L573.4 428.6Z" stroke-width="1" fill="none"/>
<text x="573.4" y="425.7" font-size="7.44" text-anchor="middle" fill="#000" stroke="#000" stroke-width="0.25">I</text>
<path d="M563.4 423 L567.8 423" stroke-width="1" fill="none"/>
<circle cx="544.7" cy="410.8" r="4.7" stroke-width="1" fill="none"/>
<text x="544.7" y="412.8" font-size="5.6" text-anchor="middle" fill="#000" stroke="#000" stroke-width="0.22">M</text>
<path d="M553.4 410.8 L559 405.2 L564.6 410.8 L559 416.4Z" stroke-width="1" fill="none"/>
<text x="559" y="413.5" font-size="7.44" text-anchor="middle" fill="#000" stroke="#000" stroke-width="0.25">I</text>
<path d="M549.4 410.8 L553.4 410.8" stroke-width="1" fill="none"/>
<path d="M544.7 415.5 L544.7 419.7" stroke-width="1" fill="none"/>
<path d="M523.4 425.4 L523.4 453.3 L528.8 453.3" stroke-width="1" fill="none"/>
<path d="M523.4 436.7 L528.8 436.7" stroke-width="1" fill="none"/>
<path d="M528.8 436.7 L533 430.2 L548.6 430.2 L552.8 436.7 L548.6 443.2 L533 443.2Z" stroke-width="1" fill="none"/>
<path d="M528.8 436.7 L552.8 436.7" stroke-width="1" fill="none"/>
<text x="540.8" y="435.5" font-size="5.15" text-anchor="middle" font-weight="bold" fill="#000" stroke="#000" stroke-width="0.1">ZISL</text>
<text x="540.8" y="441.5" font-size="5.15" text-anchor="middle" font-weight="bold" fill="#000" stroke="#000" stroke-width="0.1">1101</text>
<path d="M528.8 453.3 L533 446.8 L548.6 446.8 L552.8 453.3 L548.6 459.8 L533 459.8Z" stroke-width="1" fill="none"/>
<path d="M528.8 453.3 L552.8 453.3" stroke-width="1" fill="none"/>
<text x="540.8" y="452.1" font-size="5.15" text-anchor="middle" font-weight="bold" fill="#000" stroke="#000" stroke-width="0.1">ZISL</text>
<text x="540.8" y="458.1" font-size="5.15" text-anchor="middle" font-weight="bold" fill="#000" stroke="#000" stroke-width="0.1">1103</text>
<path d="M558 436.7 L562.2 430.2 L577.8 430.2 L582 436.7 L577.8 443.2 L562.2 443.2Z" stroke-width="1" fill="none"/>
<path d="M558 436.7 L582 436.7" stroke-width="1" fill="none"/>
<text x="570" y="435.5" font-size="5.15" text-anchor="middle" font-weight="bold" fill="#000" stroke="#000" stroke-width="0.1">ZISL</text>
<text x="570" y="441.5" font-size="5.15" text-anchor="middle" font-weight="bold" fill="#000" stroke="#000" stroke-width="0.1">1102</text>
<path d="M550.8 425.4 L558 436.7" stroke-width="0.9" fill="none"/>
<text x="553.9" y="444" font-size="4.8" text-anchor="middle" font-weight="bold" fill="#000" stroke="#000" stroke-width="0.15">M1</text>
<text x="553.9" y="460.6" font-size="4.8" text-anchor="middle" font-weight="bold" fill="#000" stroke="#000" stroke-width="0.15">M1</text>
<text x="583.4" y="444" font-size="4.8" text-anchor="middle" font-weight="bold" fill="#000" stroke="#000" stroke-width="0.15">M2</text>
<path d="M496.7 428.7 L510.8 428.7 L510.8 503.3" stroke-width="1.8" fill="none"/>
<path d="M510.8 463 L508.8 459.4 L512.8 459.4Z" stroke-width="0.3" fill="#111"/>
<path d="M514.2 450 L514.2 499.2" stroke-width="1" fill="none"/>
<path d="M510.8 450 L514.2 450" stroke-width="1" fill="none"/>
<path d="M519.7 469.2 L523.9 462.7 L539.5 462.7 L543.7 469.2 L539.5 475.7 L523.9 475.7Z" stroke-width="1" fill="none"/>
<path d="M519.7 469.2 L543.7 469.2" stroke-width="1" fill="none"/>
<text x="531.7" y="468" font-size="5.15" text-anchor="middle" font-weight="bold" fill="#000" stroke="#000" stroke-width="0.1">TISL</text>
<text x="531.7" y="474" font-size="5.15" text-anchor="middle" font-weight="bold" fill="#000" stroke="#000" stroke-width="0.1">1113</text>
<path d="M514.2 469.2 L519.7 469.2" stroke-width="1" fill="none"/>
<text x="544.9" y="476.8" font-size="4.8" text-anchor="middle" font-weight="bold" fill="#000" stroke="#000" stroke-width="0.15">M1</text>
<path d="M519.7 484.7 L523.9 478.2 L539.5 478.2 L543.7 484.7 L539.5 491.2 L523.9 491.2Z" stroke-width="1" fill="none"/>
<path d="M519.7 484.7 L543.7 484.7" stroke-width="1" fill="none"/>
<text x="531.7" y="483.5" font-size="5.15" text-anchor="middle" font-weight="bold" fill="#000" stroke="#000" stroke-width="0.1">TISL</text>
<text x="531.7" y="489.5" font-size="5.15" text-anchor="middle" font-weight="bold" fill="#000" stroke="#000" stroke-width="0.1">1114</text>
<path d="M514.2 484.7 L519.7 484.7" stroke-width="1" fill="none"/>
<text x="544.9" y="492.3" font-size="4.8" text-anchor="middle" font-weight="bold" fill="#000" stroke="#000" stroke-width="0.15">M1</text>
<path d="M519.7 499.2 L523.9 492.7 L539.5 492.7 L543.7 499.2 L539.5 505.7 L523.9 505.7Z" stroke-width="1" fill="none"/>
<path d="M519.7 499.2 L543.7 499.2" stroke-width="1" fill="none"/>
<text x="531.7" y="498" font-size="5.15" text-anchor="middle" font-weight="bold" fill="#000" stroke="#000" stroke-width="0.1">TISL</text>
<text x="531.7" y="504" font-size="5.15" text-anchor="middle" font-weight="bold" fill="#000" stroke="#000" stroke-width="0.1">1115</text>
<path d="M514.2 499.2 L519.7 499.2" stroke-width="1" fill="none"/>
<text x="544.9" y="506.8" font-size="4.8" text-anchor="middle" font-weight="bold" fill="#000" stroke="#000" stroke-width="0.15">M1</text>
<path d="M472 459.2 L472 463.4 L469.2 464.4 L474.4 472.4 L472.6 473 L472.6 484" stroke-width="1" fill="none"/>
<path d="M469.4 464.4 L473.4 464.4" stroke-width="1" fill="none"/>
<path d="M469.6 476 L475.4 476" stroke-width="1.1" fill="none"/>
<path d="M469.6 479 L475.4 479" stroke-width="1.1" fill="none"/>
<path d="M496.4 459.2 L496.4 463.4 L493.6 464.4 L498.8 472.4 L497 473 L497 484" stroke-width="1" fill="none"/>
<path d="M493.8 464.4 L497.8 464.4" stroke-width="1" fill="none"/>
<path d="M494 476 L499.8 476" stroke-width="1.1" fill="none"/>
<path d="M494 479 L499.8 479" stroke-width="1.1" fill="none"/>
<circle cx="464.2" cy="491.3" r="7.5" stroke-width="1.1" fill="none"/>
<circle cx="489.2" cy="491.3" r="7.5" stroke-width="1.1" fill="none"/>
<path d="M464.2 491.3 L476.7 491.3" stroke-width="2.1" fill="none"/>
<path d="M489.2 491.3 L510.8 491.3" stroke-width="2.1" fill="none"/>
<path d="M498 491.3 L502 488.9 L502 493.7Z" stroke-width="0.3" fill="#111"/>
<path d="M476.7 491.3 L476.7 503.3 L510.8 503.3" stroke-width="1" fill="none"/>
<path d="M493 503.3 L497 501.1 L497 505.5Z" stroke-width="0.3" fill="#111"/>
<path d="M419.2 459 L419.2 472.5 L425.8 472.5" stroke-width="2.1" fill="none"/>
<rect x="425.8" y="469.7" width="10" height="7.8" stroke-width="1.1" fill="none"/>
<path d="M425.8 469.7 L430.8 476.5 L435.8 469.7" stroke-width="1" fill="none"/>
<path d="M430.8 476.5 L435.8 477.5 L435.8 469.7Z" stroke-width="0.6" fill="#111"/>
<path d="M435.8 472.5 L444.2 472.5 L444.2 465.2" stroke-width="1" fill="none"/>
<path d="M426.8 477.5 L426.8 527.8" stroke-width="1" fill="none"/>
<path d="M434.2 477.5 L434.2 542" stroke-width="2.1" fill="none"/>
<text x="0" y="0" font-size="5.6" text-anchor="middle" transform="translate(312.5 519.1) scale(0.86 1)" font-weight="bold" fill="#000" stroke="#000" stroke-width="0.12">PW104-25-5-B</text>
<text x="0" y="0" font-size="5.6" text-anchor="middle" transform="translate(361.5 519.1) scale(0.86 1)" font-weight="bold" fill="#000" stroke="#000" stroke-width="0.12">PW107-25-5-B</text>
<text x="0" y="0" font-size="5.6" text-anchor="middle" transform="translate(405 519.1) scale(0.86 1)" font-weight="bold" fill="#000" stroke="#000" stroke-width="0.12">PW105-25-5-B</text>
<text x="0" y="0" font-size="5.6" text-anchor="middle" transform="translate(454.5 519.1) scale(0.86 1)" font-weight="bold" fill="#000" stroke="#000" stroke-width="0.12">PW106-25-5-B</text>
<text x="0" y="0" font-size="5.6" text-anchor="middle" transform="translate(577.5 519.1) scale(0.86 1)" font-weight="bold" fill="#000" stroke="#000" stroke-width="0.12">PW108-25x3-B</text>
<text x="0" y="0" font-size="5.6" text-anchor="middle" transform="translate(629 519.1) scale(0.86 1)" font-weight="bold" fill="#000" stroke="#000" stroke-width="0.12">PW109-25x3-B</text>
<path d="M331.3 512 L337.7 512 L331.3 522.4 L337.7 522.4Z" stroke-width="1" fill="none"/>
<path d="M334.5 503 L334.5 512" stroke-width="1" fill="none"/>
<path d="M334.5 522.4 L334.5 527.8" stroke-width="1" fill="none"/>
<path d="M423.8 512 L430.2 512 L423.8 522.4 L430.2 522.4Z" stroke-width="1" fill="none"/>
<path d="M427 503 L427 512" stroke-width="1" fill="none"/>
<path d="M427 522.4 L427 527.8" stroke-width="1" fill="none"/>
<path d="M595.5 512 L601.9 512 L595.5 522.4 L601.9 522.4Z" stroke-width="1" fill="none"/>
<path d="M598.7 503 L598.7 512" stroke-width="1" fill="none"/>
<path d="M598.7 522.4 L598.7 527.8" stroke-width="1" fill="none"/>
<path d="M342.5 503 L342.5 542" stroke-width="1" fill="none"/>
<path d="M434.2 520 L432 516.4 L436.4 516.4Z" stroke-width="0.3" fill="#111"/>
<path d="M607.5 520 L605.5 516.4 L609.5 516.4Z" stroke-width="0.3" fill="#111"/>
<path d="M338.8 542 L678.8 542 L678.8 568.5" stroke-width="1" fill="none"/>
<rect x="337.6" y="540.8" width="2.4" height="2.4" stroke-width="0.8" fill="#111"/>
<path d="M379 542 L374.2 539.5 L374.2 544.5Z" stroke-width="0.3" fill="#111"/>
<path d="M526.5 542 L521.7 539.5 L521.7 544.5Z" stroke-width="0.3" fill="#111"/>
<path d="M629 542 L624.2 539.5 L624.2 544.5Z" stroke-width="0.3" fill="#111"/>
<text x="0" y="0" font-size="5.6" text-anchor="middle" transform="translate(379 540.3) scale(0.86 1)" font-weight="bold" fill="#000" stroke="#000" stroke-width="0.12">PW110-32x3-I</text>
<path d="M491.5 523.5 L500.5 527.5 L492.5 529.5 L491.5 523.5" stroke-width="1" fill="none"/>
<text x="498" y="522" font-size="4.48" text-anchor="middle" font-weight="bold" fill="#000" stroke="#000" stroke-width="0.1">25-50</text>
<path d="M607.5 503 L607.5 542" stroke-width="1" fill="none"/>
<rect x="601.3" y="526.6" width="2.4" height="2.4" stroke-width="0.8" fill="#111"/>
<path d="M598.7 527.8 L602.5 527.8" stroke-width="1" fill="none"/>
<path d="M633 530.3 L637.2 523.8 L652.8 523.8 L657 530.3 L652.8 536.8 L637.2 536.8Z" stroke-width="1" fill="none"/>
<path d="M633 530.3 L657 530.3" stroke-width="1" fill="none"/>
<text x="645" y="529.1" font-size="5.15" text-anchor="middle" font-weight="bold" fill="#000" stroke="#000" stroke-width="0.1">TISL</text>
<text x="645" y="535.1" font-size="5.15" text-anchor="middle" font-weight="bold" fill="#000" stroke="#000" stroke-width="0.1">1116</text>
<path d="M645 536.8 L645 542" stroke-width="1" fill="none"/>
<rect x="667.5" y="568.7" width="63.3" height="58.1" stroke-width="1.1" fill="none"/>
<path d="M667.5 577.2 L730.8 577.2" stroke-width="1" fill="none"/>
<circle cx="700" cy="556.7" r="4.7" stroke-width="1" fill="none"/>
<text x="700" y="558.7" font-size="5.6" text-anchor="middle" fill="#000" stroke="#000" stroke-width="0.22">M</text>
<path d="M694 542.6 L700 536.6 L706 542.6 L700 548.6Z" stroke-width="1" fill="none"/>
<text x="700" y="545.3" font-size="7.44" text-anchor="middle" fill="#000" stroke="#000" stroke-width="0.25">I</text>
<text x="0" y="0" font-size="7.44" text-anchor="middle" transform="translate(715.5 559.5) scale(0.87 1)" fill="#000" stroke="#000" stroke-width="0.25">A101</text>
<path d="M700 548.6 L700 552" stroke-width="1" fill="none"/>
<path d="M700 561.4 L700 608.5" stroke-width="1" fill="none"/>
<path d="M681.7 586.3 L691.7 586.3" stroke-width="1.1" fill="none"/>
<path d="M701.3 586.3 L724.2 586.3" stroke-width="1.1" fill="none"/>
<path d="M686.3 593.8 L698.3 593.8" stroke-width="1.1" fill="none"/>
<path d="M715.8 593.8 L726.7 593.8" stroke-width="1.1" fill="none"/>
<path d="M702.5 602.5 L714.2 602.5" stroke-width="1.1" fill="none"/>
<path d="M690 619.2 L690 609.8 L709.7 618.6 L709.7 610" stroke-width="1.1" fill="none"/>
<path d="M713 612 L730.8 612" stroke-width="1.1" fill="none"/>
<text x="0" y="0" font-size="7.68" text-anchor="middle" transform="translate(677.8 606.5) scale(0.87 1)" fill="#000" stroke="#000" stroke-width="0.25">V102</text>
<path d="M687.5 570 L687.5 548 L690.5 545" stroke-width="0.9" fill="none"/>
<path d="M686 549 L689.5 544.5 L690.5 548" stroke-width="0.8" fill="none"/>
<text x="0" y="0" font-size="5.6" text-anchor="middle" transform="translate(694.7 547) rotate(-90) scale(0.86 1)" font-weight="bold" fill="#000" stroke="#000" stroke-width="0.12">VT102-25x3-I</text>
<path d="M596 579.2 L600.2 572.7 L615.8 572.7 L620 579.2 L615.8 585.7 L600.2 585.7Z" stroke-width="1" fill="none"/>
<path d="M596 579.2 L620 579.2" stroke-width="1" fill="none"/>
<text x="608" y="578" font-size="5.15" text-anchor="middle" font-weight="bold" fill="#000" stroke="#000" stroke-width="0.1">TISL</text>
<text x="608" y="584" font-size="5.15" text-anchor="middle" font-weight="bold" fill="#000" stroke="#000" stroke-width="0.1">1117</text>
<path d="M620 579.5 L640.5 579.5" stroke-width="1" fill="none"/>
<path d="M667.5 574.7 L643.3 574.7 L643.3 638.3" stroke-width="2.1" fill="none"/>
<path d="M643.3 607 L641.1 603.2 L645.5 603.2Z" stroke-width="0.3" fill="#111"/>
<text x="0" y="0" font-size="5.6" text-anchor="middle" transform="translate(641 608.5) rotate(-90) scale(0.86 1)" font-weight="bold" fill="#000" stroke="#000" stroke-width="0.12">PSL102-100M4.5-B</text>
<path d="M643.3 620.8 L667.5 620.8" stroke-width="1.4" fill="none"/>
<rect x="648.8" y="618" width="10.8" height="5.6" stroke-width="1.1" fill="#fff"/>
<path d="M648.8 618 L659.6 623.6" stroke-width="0.9" fill="none"/>
<path d="M659.6 618 L648.8 623.6" stroke-width="0.9" fill="none"/>
<text x="0" y="0" font-size="5" text-anchor="middle" transform="translate(654.2 616.8) scale(0.9 1)" font-weight="bold" fill="#000" stroke="#000" stroke-width="0.08">DN80</text>
<path d="M663.8 620.8 L663.8 645" stroke-width="1" fill="none"/>
<path d="M660.2 629.8 L667.4 629.8 L660.2 640.2 L667.4 640.2Z" stroke-width="1" fill="none"/>
<path d="M660.8 649 L660.8 645 L667 645 L667 649" stroke-width="1" fill="none"/>
<text x="0" y="0" font-size="4.8" text-anchor="middle" transform="translate(674.6 636) rotate(-90) scale(0.9 1)" font-weight="bold" fill="#000" stroke="#000" stroke-width="0.08">DN50</text>
<clipPath id="hc4"><path d="M629.2 637.1 L634.7 637.1 L634.7 643.3 L650.8 643.3 L650.8 637.1 L655.8 637.1 L655.8 650 L629.2 650Z"/></clipPath>
<path d="M615.8 650.5 l14.4 -14.4M618.3 650.5 l14.4 -14.4M620.8 650.5 l14.4 -14.4M623.3 650.5 l14.4 -14.4M625.8 650.5 l14.4 -14.4M628.3 650.5 l14.4 -14.4M630.8 650.5 l14.4 -14.4M633.3 650.5 l14.4 -14.4M635.8 650.5 l14.4 -14.4M638.3 650.5 l14.4 -14.4M640.8 650.5 l14.4 -14.4M643.3 650.5 l14.4 -14.4M645.8 650.5 l14.4 -14.4M648.3 650.5 l14.4 -14.4M650.8 650.5 l14.4 -14.4M653.3 650.5 l14.4 -14.4M655.8 650.5 l14.4 -14.4" stroke-width="1.15" clip-path="url(#hc4)"/>
<path d="M629.2 637.6 L634.7 637.6 L634.7 643.3 L650.8 643.3 L650.8 637.6 L655.8 637.6" stroke-width="1.5" fill="none"/>
<path d="M730.8 612 L735 612 L735 551.6 L746.5 551.6" stroke-width="1" fill="none"/>
<rect x="746.25" y="548.8" width="11.5" height="6" stroke-width="1" fill="#fff"/>
<path d="M748.75 550.3 L755.25 553.3" stroke-width="1.2" fill="none"/>
<path d="M757.7 551.6 L800 551.6" stroke-width="1" fill="none"/>
<path d="M783 551.6 L778.2 549.1 L778.2 554.1Z" stroke-width="0.3" fill="#111"/>
<path d="M772.5 551.6 L772.5 670" stroke-width="1" fill="none"/>
<text x="0" y="0" font-size="5.6" text-anchor="middle" transform="translate(742 576.5) rotate(-90) scale(0.86 1)" font-weight="bold" fill="#000" stroke="#000" stroke-width="0.12">PSL103-80M-B</text>
<rect x="743.5" y="520.7" width="25" height="12.6" stroke-width="1" fill="none" rx="6.3"/>
<text x="756" y="526.4" font-size="5.15" text-anchor="middle" font-weight="bold" fill="#000" stroke="#000" stroke-width="0.1">FIV</text>
<text x="756" y="531.3" font-size="5.15" text-anchor="middle" font-weight="bold" fill="#000" stroke="#000" stroke-width="0.1">1109</text>
<path d="M756.7 540.2 L762.3 534.6 L767.9 540.2 L762.3 545.8Z" stroke-width="1" fill="none"/>
<text x="762.3" y="542.9" font-size="7.44" text-anchor="middle" fill="#000" stroke="#000" stroke-width="0.25">I</text>
<circle cx="752.5" cy="540.2" r="1.9" stroke-width="1" fill="#333"/>
<path d="M752.5 542 L752.5 548.8" stroke-width="1" fill="none"/>
<path d="M754.4 540.2 L756.7 540.2" stroke-width="1" fill="none"/>
<path d="M753 538.4 L755 533.4" stroke-width="1" fill="none"/>
<path d="M730.8 621 L746.5 621" stroke-width="2.1" fill="none"/>
<rect x="746.25" y="618.2" width="11.5" height="6" stroke-width="1" fill="#fff"/>
<path d="M748.75 619.7 L755.25 622.7" stroke-width="1.2" fill="none"/>
<path d="M757.7 621 L800 621" stroke-width="2.1" fill="none"/>
<path d="M783 621 L778.2 618.5 L778.2 623.5Z" stroke-width="0.3" fill="#111"/>
<text x="0" y="0" font-size="5.6" text-anchor="middle" transform="translate(740.5 631.7) scale(0.86 1)" font-weight="bold" fill="#000" stroke="#000" stroke-width="0.12">PSL105-80M-B</text>
<rect x="743.5" y="591.3" width="25" height="12.6" stroke-width="1" fill="none" rx="6.3"/>
<text x="756" y="597" font-size="5.15" text-anchor="middle" font-weight="bold" fill="#000" stroke="#000" stroke-width="0.1">FIV</text>
<text x="756" y="601.9" font-size="5.15" text-anchor="middle" font-weight="bold" fill="#000" stroke="#000" stroke-width="0.1">1110</text>
<path d="M756.9 610 L762.5 604.4 L768.1 610 L762.5 615.6Z" stroke-width="1" fill="none"/>
<text x="762.5" y="612.7" font-size="7.44" text-anchor="middle" fill="#000" stroke="#000" stroke-width="0.25">I</text>
<circle cx="752.3" cy="610" r="1.9" stroke-width="1" fill="#333"/>
<path d="M752.3 611.8 L752.3 618.2" stroke-width="1" fill="none"/>
<path d="M754.2 610 L756.9 610" stroke-width="1" fill="none"/>
<path d="M753 608.2 L755 604" stroke-width="1" fill="none"/>
<circle cx="807" cy="551.4" r="7.2" stroke-width="1.2" fill="none"/>
<path d="M800 551.4 L807 551.4" stroke-width="1.2" fill="none"/>
<text x="0" y="0" font-size="7.68" text-anchor="middle" transform="translate(830.3 553.5) scale(0.87 1)" fill="#000" stroke="#000" stroke-width="0.25">P101A</text>
<path d="M791 551.4 L791 583.3" stroke-width="1.2" fill="none"/>
<rect x="785.7" y="559.7" width="10.6" height="10.4" stroke-width="1.3" fill="none"/>
<path d="M786.3 560.6 L795.7 569.1" stroke-width="1.2" fill="none"/>
<path d="M795.7 560.6 L786.3 569.1" stroke-width="1.2" fill="none"/>
<path d="M786.3 564.8 L795.7 564.8" stroke-width="0.8" fill="none"/>
<path d="M801 569 L807 563 L813 569 L807 575Z" stroke-width="1" fill="none"/>
<path d="M807 558.6 L807 563" stroke-width="1" fill="none"/>
<path d="M807 564.9 L807 572.9" stroke-width="0.9" fill="none"/>
<clipPath id="hc5"><path d="M777.5 578.2 L783.8 578.2 L783.8 583.3 L799.5 583.3 L799.5 578.2 L805.5 578.2 L805.5 591.5 L777.5 591.5Z"/></clipPath>
<path d="M763.7 592 l14.8 -14.8M766.2 592 l14.8 -14.8M768.7 592 l14.8 -14.8M771.2 592 l14.8 -14.8M773.7 592 l14.8 -14.8M776.2 592 l14.8 -14.8M778.7 592 l14.8 -14.8M781.2 592 l14.8 -14.8M783.7 592 l14.8 -14.8M786.2 592 l14.8 -14.8M788.7 592 l14.8 -14.8M791.2 592 l14.8 -14.8M793.7 592 l14.8 -14.8M796.2 592 l14.8 -14.8M798.7 592 l14.8 -14.8M801.2 592 l14.8 -14.8M803.7 592 l14.8 -14.8M806.2 592 l14.8 -14.8" stroke-width="1.15" clip-path="url(#hc5)"/>
<path d="M777.5 578.7 L783.8 578.7 L783.8 583.3 L799.5 583.3 L799.5 578.7 L805.5 578.7" stroke-width="1.5" fill="none"/>
<circle cx="807" cy="620.6" r="7.2" stroke-width="1.2" fill="none"/>
<path d="M800 620.6 L807 620.6" stroke-width="1.2" fill="none"/>
<text x="0" y="0" font-size="7.68" text-anchor="middle" transform="translate(830.3 622.7) scale(0.87 1)" fill="#000" stroke="#000" stroke-width="0.25">P101B</text>
<path d="M791 620.6 L791 652.3" stroke-width="1.2" fill="none"/>
<rect x="785.7" y="628.9" width="10.6" height="10.4" stroke-width="1.3" fill="none"/>
<path d="M786.3 629.8 L795.7 638.3" stroke-width="1.2" fill="none"/>
<path d="M795.7 629.8 L786.3 638.3" stroke-width="1.2" fill="none"/>
<path d="M786.3 634 L795.7 634" stroke-width="0.8" fill="none"/>
<path d="M801 638.2 L807 632.2 L813 638.2 L807 644.2Z" stroke-width="1" fill="none"/>
<path d="M807 627.8 L807 632.2" stroke-width="1" fill="none"/>
<path d="M807 634.1 L807 642.1" stroke-width="0.9" fill="none"/>
<clipPath id="hc6"><path d="M777.5 647.2 L783.8 647.2 L783.8 652.3 L799.5 652.3 L799.5 647.2 L805.5 647.2 L805.5 660.5 L777.5 660.5Z"/></clipPath>
<path d="M763.7 661 l14.8 -14.8M766.2 661 l14.8 -14.8M768.7 661 l14.8 -14.8M771.2 661 l14.8 -14.8M773.7 661 l14.8 -14.8M776.2 661 l14.8 -14.8M778.7 661 l14.8 -14.8M781.2 661 l14.8 -14.8M783.7 661 l14.8 -14.8M786.2 661 l14.8 -14.8M788.7 661 l14.8 -14.8M791.2 661 l14.8 -14.8M793.7 661 l14.8 -14.8M796.2 661 l14.8 -14.8M798.7 661 l14.8 -14.8M801.2 661 l14.8 -14.8M803.7 661 l14.8 -14.8M806.2 661 l14.8 -14.8" stroke-width="1.15" clip-path="url(#hc6)"/>
<path d="M777.5 647.7 L783.8 647.7 L783.8 652.3 L799.5 652.3 L799.5 647.7 L805.5 647.7" stroke-width="1.5" fill="none"/>
<path d="M811 545.5 L814.3 545.5 L814.3 534.6 L980.5 534.6" stroke-width="1.5" fill="none"/>
<path d="M814.5 540.5 L812.6 543.9 L816.4 543.9Z" stroke-width="0.3" fill="#111"/>
<rect x="840" y="531.8" width="12" height="6" stroke-width="1" fill="#fff"/>
<path d="M842.5 533.3 L849.5 536.3" stroke-width="1.2" fill="none"/>
<path d="M911 534.8 L907 532.8 L907 536.8Z" stroke-width="0.3" fill="#111"/>
<text x="0" y="0" font-size="5.6" text-anchor="middle" transform="translate(905.5 532.3) scale(0.86 1)" font-weight="bold" fill="#000" stroke="#000" stroke-width="0.12">PSL104-80M-B</text>
<rect x="851.5" y="508.9" width="25" height="12.6" stroke-width="1" fill="none" rx="6.3"/>
<text x="864" y="514.6" font-size="5.15" text-anchor="middle" font-weight="bold" fill="#000" stroke="#000" stroke-width="0.1">FIV</text>
<text x="864" y="519.5" font-size="5.15" text-anchor="middle" font-weight="bold" fill="#000" stroke="#000" stroke-width="0.1">1108</text>
<path d="M829.6 523.6 L835.2 518 L840.8 523.6 L835.2 529.2Z" stroke-width="1" fill="none"/>
<text x="835.2" y="526.3" font-size="7.44" text-anchor="middle" fill="#000" stroke="#000" stroke-width="0.25">I</text>
<circle cx="847" cy="522.2" r="1.9" stroke-width="1" fill="#333"/>
<path d="M840.8 523.3 L845.1 522.6" stroke-width="1" fill="none"/>
<path d="M847 524.1 L846.5 531.8" stroke-width="1" fill="none"/>
<path d="M848 530.5 L859 521.3" stroke-width="0.9" fill="none"/>
<path d="M811 615 L814.5 615" stroke-width="2.1" fill="none"/>
<path d="M814.5 610.5 L812.6 613.9 L816.4 613.9Z" stroke-width="0.3" fill="#111"/>
<rect x="840" y="601.4" width="12" height="6" stroke-width="1" fill="#fff"/>
<path d="M842.5 602.9 L849.5 605.9" stroke-width="1.2" fill="none"/>
<text x="0" y="0" font-size="5.6" text-anchor="middle" transform="translate(905.5 601.9) scale(0.86 1)" font-weight="bold" fill="#000" stroke="#000" stroke-width="0.12">PSL106-80M-B</text>
<path d="M911 604.2 L907 602.2 L907 606.2Z" stroke-width="0.3" fill="#111"/>
<rect x="851.5" y="578.5" width="25" height="12.6" stroke-width="1" fill="none" rx="6.3"/>
<text x="864" y="584.2" font-size="5.15" text-anchor="middle" font-weight="bold" fill="#000" stroke="#000" stroke-width="0.1">FIV</text>
<text x="864" y="589.1" font-size="5.15" text-anchor="middle" font-weight="bold" fill="#000" stroke="#000" stroke-width="0.1">1111</text>
<path d="M829.8 593 L835.4 587.4 L841 593 L835.4 598.6Z" stroke-width="1" fill="none"/>
<text x="835.4" y="595.7" font-size="7.44" text-anchor="middle" fill="#000" stroke="#000" stroke-width="0.25">I</text>
<circle cx="847" cy="591.6" r="1.9" stroke-width="1" fill="#333"/>
<path d="M841 592.7 L845.1 592" stroke-width="1" fill="none"/>
<path d="M847 593.5 L846.5 601.4" stroke-width="1" fill="none"/>
<path d="M848 600.2 L859 591" stroke-width="0.9" fill="none"/>
<rect x="468.3" y="646.3" width="21" height="10" stroke-width="1" fill="none"/>
<text x="0" y="0" font-size="7.44" text-anchor="middle" transform="translate(478.8 654.3) scale(0.87 1)" fill="#000" stroke="#000" stroke-width="0.25">PW</text>
<rect x="468.3" y="664.3" width="21" height="10" stroke-width="1" fill="none"/>
<text x="0" y="0" font-size="7.44" text-anchor="middle" transform="translate(478.8 672.3) scale(0.87 1)" fill="#000" stroke="#000" stroke-width="0.25">PW</text>
<path d="M489.3 651.7 L761.3 651.7 L761.3 621" stroke-width="2.1" fill="none"/>
<path d="M541.5 651.7 L536.7 649.2 L536.7 654.2Z" stroke-width="0.3" fill="#111"/>
<path d="M489.3 670 L772.5 670" stroke-width="1" fill="none"/>
<path d="M541.5 670 L536.7 667.5 L536.7 672.5Z" stroke-width="0.3" fill="#111"/>
<text x="0" y="0" font-size="5.6" text-anchor="middle" transform="translate(588 650.3) scale(0.86 1)" font-weight="bold" fill="#000" stroke="#000" stroke-width="0.12">PW111-57x3.5-B</text>
<text x="0" y="0" font-size="5.6" text-anchor="middle" transform="translate(588 668.3) scale(0.86 1)" font-weight="bold" fill="#000" stroke="#000" stroke-width="0.12">PW112-32X3.5-B</text>
<rect x="618.8" y="698.8" width="225" height="30.7" stroke-width="1" fill="none"/>
<path d="M618.8 706.5 L843.8 706.5" stroke-width="0.9" fill="none"/>
<path d="M618.8 714.8 L843.8 714.8" stroke-width="0.9" fill="none"/>
<path d="M618.8 723.3 L843.8 723.3" stroke-width="0.9" fill="none"/>
<path d="M631.8 698.8 L631.8 729.5" stroke-width="0.9" fill="none"/>
<path d="M732 698.8 L732 729.5" stroke-width="0.9" fill="none"/>
<path d="M749.5 698.8 L749.5 729.5" stroke-width="0.9" fill="none"/>
<path d="M768.8 698.8 L768.8 729.5" stroke-width="0.9" fill="none"/>
<path d="M788 698.8 L788 729.5" stroke-width="0.9" fill="none"/>
<path d="M806 698.8 L806 729.5" stroke-width="0.9" fill="none"/>
<path d="M825.5 698.8 L825.5 729.5" stroke-width="0.9" fill="none"/>
<text x="625" y="721.9" font-size="5.4" text-anchor="middle" font-weight="bold" fill="#000" stroke="#000" stroke-width="0.22">0</text>
<text x="0" y="0" font-size="5.6" text-anchor="middle" transform="translate(644.6 722) scale(0.8 1)" font-weight="bold" fill="#000" stroke="#000" stroke-width="0.22">首次出版</text>
<text x="625.3" y="728" font-size="3" text-anchor="middle" font-weight="bold" fill="#000" stroke="#000" stroke-width="0.22">版次</text>
<text x="668" y="728" font-size="3.36" text-anchor="middle" font-weight="bold" fill="#000" stroke="#000" stroke-width="0.1">说  明</text>
<text x="690" y="728" font-size="3" text-anchor="middle" font-weight="bold" fill="#000" stroke="#000" stroke-width="0.22">修改</text>
<text x="0" y="0" font-size="3" text-anchor="middle" transform="translate(740.8 728) scale(0.85 1)" font-weight="bold" fill="#000" stroke="#000" stroke-width="0.22">设计</text>
<text x="0" y="0" font-size="3" text-anchor="middle" transform="translate(759 728) scale(0.85 1)" font-weight="bold" fill="#000" stroke="#000" stroke-width="0.22">校核</text>
<text x="0" y="0" font-size="3" text-anchor="middle" transform="translate(778.4 728) scale(0.85 1)" font-weight="bold" fill="#000" stroke="#000" stroke-width="0.22">审核</text>
<text x="0" y="0" font-size="3" text-anchor="middle" transform="translate(797 728) scale(0.85 1)" font-weight="bold" fill="#000" stroke="#000" stroke-width="0.22">审定</text>
<text x="0" y="0" font-size="3.36" text-anchor="middle" transform="translate(815.8 728) scale(0.85 1)" font-weight="bold" fill="#000" stroke="#000" stroke-width="0.1">项目经理</text>
<text x="0" y="0" font-size="3" text-anchor="middle" transform="translate(834.6 728) scale(0.85 1)" font-weight="bold" fill="#000" stroke="#000" stroke-width="0.22">日期</text>
<rect x="843.8" y="684.5" width="225.8" height="45" stroke-width="1.8" fill="none"/>
<path d="M937.6 684.5 L937.6 729.5" stroke-width="1.2" fill="none"/>
<path d="M843.8 707 L937.6 707" stroke-width="1.2" fill="none"/>
<path d="M850.6 694.6L858.9 687.5H867.9L867.2 695.6C866.4 699 864.6 701.2 862 702.4L856.8 704H849.4V697.8H856.6V700.6L859.4 699.6C860.6 698.8 861.2 697.6 861.2 696.2V693.4H855.6L852.8 696Z" fill="#000" stroke="#000" stroke-width="0.4"/>
<text x="0" y="0" font-size="5.8" text-anchor="middle" transform="translate(899.8 691.8) scale(1.18 1)" fill="#000" stroke="#000" stroke-width="0.08">国电环境保护研究院</text>
<text x="0" y="0" font-size="2.4" text-anchor="middle" transform="translate(899.5 695.2) scale(1.5 1)" font-weight="bold" fill="#000" stroke="#000" stroke-width="0.08">G U O D I A N   E P R I</text>
<path d="M869 696.8 L929 696.8" stroke-width="1.2" fill="none"/>
<text x="0" y="0" font-size="4.4" text-anchor="middle" transform="translate(889 701.6) scale(1.5 1)" fill="#444" stroke="#444" stroke-width="0.08">南京龙源环保</text>
<path d="M869 703.6H909" stroke-width="0.9" stroke-dasharray="3 1.2"/>
<text x="0" y="0" font-size="5.8" text-anchor="middle" transform="translate(891 714.4) scale(0.76 1)" font-weight="bold" fill="#000" stroke="#000" stroke-width="0.22">工艺管道及仪表流程图</text>
<text x="0" y="0" font-size="5.15" text-anchor="middle" transform="translate(893 721) scale(0.95 1)" font-weight="bold" fill="#000" stroke="#000" stroke-width="0.1">TKD流程</text>
<text x="0" y="0" font-size="5.8" text-anchor="middle" transform="translate(892 728) scale(0.84 1)" font-weight="bold" fill="#000" stroke="#000" stroke-width="0.22">一级石灰石磨制系统</text>
<text x="0" y="0" font-size="7.8" text-anchor="middle" transform="translate(1005 697.4) scale(0.77 1)" font-weight="bold" fill="#000" stroke="#000" stroke-width="0.22">山西省某电厂烟气脱硫项目</text>
<path d="M937.6 703.5 L1069.6 703.5" stroke-width="1" fill="none"/>
<path d="M937.6 712.4 L1069.6 712.4" stroke-width="1" fill="none"/>
<path d="M937.6 721 L1069.6 721" stroke-width="1" fill="none"/>
<path d="M957 703.5 L957 729.5" stroke-width="1" fill="none"/>
<path d="M988.6 703.5 L988.6 729.5" stroke-width="1" fill="none"/>
<path d="M1007 703.5 L1007 729.5" stroke-width="1" fill="none"/>
<text x="947.3" y="710.2" font-size="3.81" text-anchor="middle" font-weight="bold" fill="#000" stroke="#000" stroke-width="0.1">阶 段</text>
<text x="0" y="0" font-size="5" text-anchor="middle" transform="translate(972.8 710.6) scale(0.8 1)" font-weight="bold" fill="#000" stroke="#000" stroke-width="0.22">施工</text>
<text x="997.8" y="710.2" font-size="3.81" text-anchor="middle" font-weight="bold" fill="#000" stroke="#000" stroke-width="0.1">图 号</text>
<text x="0" y="0" font-size="5.6" text-anchor="middle" transform="translate(1038 710.5) scale(0.86 1)" font-weight="bold" fill="#000" stroke="#000" stroke-width="0.12">4-7003 004,30</text>
<text x="947.3" y="718.8" font-size="3.81" text-anchor="middle" font-weight="bold" fill="#000" stroke="#000" stroke-width="0.1">专 业</text>
<text x="0" y="0" font-size="5" text-anchor="middle" transform="translate(972.8 719.2) scale(0.8 1)" font-weight="bold" fill="#000" stroke="#000" stroke-width="0.22">工艺</text>
<text x="997.8" y="718.8" font-size="3.81" text-anchor="middle" font-weight="bold" fill="#000" stroke="#000" stroke-width="0.1">图 号</text>
<text x="0" y="0" font-size="5.6" text-anchor="middle" transform="translate(1038 719.1) scale(0.86 1)" font-weight="bold" fill="#000" stroke="#000" stroke-width="0.12">H07027-PR04 02-0</text>
<text x="947.3" y="727" font-size="3.81" text-anchor="middle" font-weight="bold" fill="#000" stroke="#000" stroke-width="0.1">比 例</text>
<text x="0" y="0" font-size="5" text-anchor="middle" transform="translate(972.8 727.4) scale(0.8 1)" font-weight="bold" fill="#000" stroke="#000" stroke-width="0.22">无</text>
<text x="997.8" y="727" font-size="3.81" text-anchor="middle" font-weight="bold" fill="#000" stroke="#000" stroke-width="0.1">日 期</text>
<text x="0" y="0" font-size="5.6" text-anchor="middle" transform="translate(1038 727.3) scale(0.86 1)" font-weight="bold" fill="#000" stroke="#000" stroke-width="0.12">第 4 张 共 1 张</text>
<path d="M967 719.6 L978.5 719.6" stroke-width="0.8" fill="none"/>
</svg>
</body></html>
